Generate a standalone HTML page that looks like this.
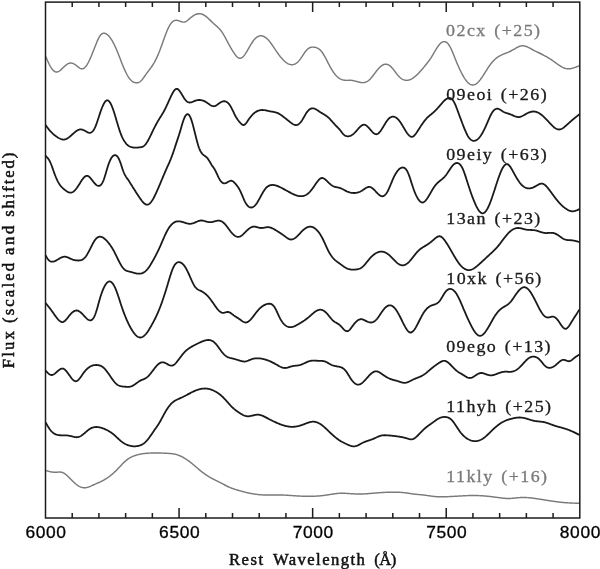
<!DOCTYPE html>
<html><head><meta charset="utf-8"><style>
html,body{margin:0;padding:0;background:#fff;}
body{width:600px;height:569px;overflow:hidden;font-family:"Liberation Sans",sans-serif;}
svg{display:block;will-change:transform;}
</style></head><body>
<svg width="600" height="569" viewBox="0 0 600 569">
<path d="M45.80 56.70L46.30 57.87L46.80 59.03L47.30 60.18L47.80 61.30L48.30 62.40L48.80 63.45L49.30 64.47L49.80 65.43L50.30 66.33L50.80 67.18L51.30 67.95L51.80 68.67L52.30 69.32L52.80 69.90L53.30 70.41L53.80 70.85L54.30 71.22L54.80 71.53L55.30 71.75L55.80 71.91L56.30 71.99L56.80 71.99L57.30 71.92L57.80 71.79L58.30 71.58L58.80 71.32L59.30 71.02L59.80 70.66L60.30 70.27L60.80 69.85L61.30 69.40L61.80 68.94L62.30 68.46L62.80 67.98L63.30 67.50L63.80 67.02L64.30 66.56L64.80 66.11L65.30 65.67L65.80 65.26L66.30 64.87L66.80 64.51L67.30 64.18L67.80 63.88L68.30 63.62L68.80 63.40L69.30 63.22L69.80 63.09L70.30 63.02L70.80 62.99L71.30 63.02L71.80 63.10L72.30 63.23L72.80 63.40L73.30 63.61L73.80 63.85L74.30 64.13L74.80 64.43L75.30 64.77L75.80 65.12L76.30 65.49L76.80 65.88L77.30 66.28L77.80 66.67L78.30 67.06L78.80 67.44L79.30 67.79L79.80 68.10L80.30 68.37L80.80 68.58L81.30 68.74L81.80 68.82L82.30 68.82L82.80 68.74L83.30 68.56L83.80 68.30L84.30 67.95L84.80 67.52L85.30 67.01L85.80 66.43L86.30 65.77L86.80 65.05L87.30 64.26L87.80 63.41L88.30 62.50L88.80 61.53L89.30 60.52L89.80 59.46L90.30 58.35L90.80 57.21L91.30 56.03L91.80 54.82L92.30 53.59L92.80 52.34L93.30 51.07L93.80 49.79L94.30 48.50L94.80 47.22L95.30 45.93L95.80 44.65L96.30 43.40L96.80 42.17L97.30 40.99L97.80 39.86L98.30 38.80L98.80 37.81L99.30 36.90L99.80 36.09L100.30 35.39L100.80 34.80L101.30 34.31L101.80 33.92L102.30 33.62L102.80 33.41L103.30 33.28L103.80 33.22L104.30 33.24L104.80 33.32L105.30 33.47L105.80 33.67L106.30 33.93L106.80 34.25L107.30 34.62L107.80 35.04L108.30 35.52L108.80 36.05L109.30 36.62L109.80 37.24L110.30 37.90L110.80 38.61L111.30 39.36L111.80 40.16L112.30 40.99L112.80 41.86L113.30 42.78L113.80 43.73L114.30 44.73L114.80 45.76L115.30 46.82L115.80 47.93L116.30 49.06L116.80 50.24L117.30 51.44L117.80 52.68L118.30 53.94L118.80 55.21L119.30 56.50L119.80 57.80L120.30 59.10L120.80 60.40L121.30 61.69L121.80 62.97L122.30 64.24L122.80 65.48L123.30 66.70L123.80 67.89L124.30 69.04L124.80 70.16L125.30 71.24L125.80 72.28L126.30 73.28L126.80 74.24L127.30 75.15L127.80 76.01L128.30 76.83L128.80 77.59L129.30 78.30L129.80 78.95L130.30 79.55L130.80 80.09L131.30 80.57L131.80 81.00L132.30 81.38L132.80 81.71L133.30 82.00L133.80 82.23L134.30 82.43L134.80 82.58L135.30 82.69L135.80 82.76L136.30 82.80L136.80 82.80L137.30 82.77L137.80 82.69L138.30 82.56L138.80 82.38L139.30 82.14L139.80 81.84L140.30 81.47L140.80 81.04L141.30 80.55L141.80 80.00L142.30 79.41L142.80 78.78L143.30 78.12L143.80 77.44L144.30 76.73L144.80 76.02L145.30 75.30L145.80 74.57L146.30 73.86L146.80 73.16L147.30 72.48L147.80 71.81L148.30 71.16L148.80 70.51L149.30 69.86L149.80 69.20L150.30 68.54L150.80 67.87L151.30 67.19L151.80 66.48L152.30 65.75L152.80 64.99L153.30 64.20L153.80 63.37L154.30 62.51L154.80 61.60L155.30 60.66L155.80 59.69L156.30 58.67L156.80 57.62L157.30 56.53L157.80 55.40L158.30 54.24L158.80 53.04L159.30 51.80L159.80 50.52L160.30 49.21L160.80 47.86L161.30 46.49L161.80 45.09L162.30 43.68L162.80 42.27L163.30 40.85L163.80 39.44L164.30 38.04L164.80 36.66L165.30 35.30L165.80 33.98L166.30 32.70L166.80 31.46L167.30 30.27L167.80 29.13L168.30 28.05L168.80 27.03L169.30 26.08L169.80 25.20L170.30 24.38L170.80 23.64L171.30 22.97L171.80 22.39L172.30 21.89L172.80 21.46L173.30 21.11L173.80 20.83L174.30 20.61L174.80 20.45L175.30 20.35L175.80 20.30L176.30 20.29L176.80 20.33L177.30 20.40L177.80 20.51L178.30 20.63L178.80 20.79L179.30 20.95L179.80 21.13L180.30 21.31L180.80 21.49L181.30 21.66L181.80 21.82L182.30 21.95L182.80 22.05L183.30 22.11L183.80 22.12L184.30 22.08L184.80 21.97L185.30 21.80L185.80 21.57L186.30 21.29L186.80 20.96L187.30 20.59L187.80 20.20L188.30 19.78L188.80 19.35L189.30 18.91L189.80 18.47L190.30 18.04L190.80 17.63L191.30 17.22L191.80 16.84L192.30 16.46L192.80 16.11L193.30 15.78L193.80 15.46L194.30 15.17L194.80 14.89L195.30 14.65L195.80 14.42L196.30 14.23L196.80 14.06L197.30 13.92L197.80 13.81L198.30 13.74L198.80 13.69L199.30 13.68L199.80 13.71L200.30 13.76L200.80 13.85L201.30 13.97L201.80 14.12L202.30 14.29L202.80 14.50L203.30 14.73L203.80 14.99L204.30 15.28L204.80 15.59L205.30 15.93L205.80 16.29L206.30 16.68L206.80 17.08L207.30 17.51L207.80 17.96L208.30 18.42L208.80 18.90L209.30 19.38L209.80 19.87L210.30 20.37L210.80 20.87L211.30 21.37L211.80 21.87L212.30 22.35L212.80 22.83L213.30 23.30L213.80 23.75L214.30 24.19L214.80 24.63L215.30 25.06L215.80 25.49L216.30 25.92L216.80 26.36L217.30 26.80L217.80 27.26L218.30 27.74L218.80 28.24L219.30 28.76L219.80 29.31L220.30 29.89L220.80 30.50L221.30 31.15L221.80 31.84L222.30 32.58L222.80 33.35L223.30 34.16L223.80 35.00L224.30 35.87L224.80 36.76L225.30 37.67L225.80 38.59L226.30 39.53L226.80 40.47L227.30 41.42L227.80 42.36L228.30 43.30L228.80 44.23L229.30 45.15L229.80 46.06L230.30 46.95L230.80 47.83L231.30 48.70L231.80 49.54L232.30 50.37L232.80 51.17L233.30 51.95L233.80 52.71L234.30 53.44L234.80 54.15L235.30 54.82L235.80 55.45L236.30 56.03L236.80 56.56L237.30 57.03L237.80 57.44L238.30 57.77L238.80 58.03L239.30 58.21L239.80 58.29L240.30 58.28L240.80 58.18L241.30 57.99L241.80 57.71L242.30 57.35L242.80 56.92L243.30 56.43L243.80 55.87L244.30 55.26L244.80 54.59L245.30 53.88L245.80 53.13L246.30 52.35L246.80 51.54L247.30 50.70L247.80 49.84L248.30 48.98L248.80 48.10L249.30 47.22L249.80 46.35L250.30 45.49L250.80 44.64L251.30 43.81L251.80 43.01L252.30 42.23L252.80 41.50L253.30 40.80L253.80 40.15L254.30 39.55L254.80 38.99L255.30 38.48L255.80 38.02L256.30 37.60L256.80 37.22L257.30 36.90L257.80 36.61L258.30 36.37L258.80 36.17L259.30 36.01L259.80 35.90L260.30 35.83L260.80 35.80L261.30 35.81L261.80 35.87L262.30 35.96L262.80 36.09L263.30 36.26L263.80 36.47L264.30 36.72L264.80 37.01L265.30 37.33L265.80 37.69L266.30 38.08L266.80 38.51L267.30 38.97L267.80 39.47L268.30 40.00L268.80 40.56L269.30 41.15L269.80 41.77L270.30 42.41L270.80 43.08L271.30 43.76L271.80 44.47L272.30 45.18L272.80 45.91L273.30 46.65L273.80 47.39L274.30 48.14L274.80 48.89L275.30 49.63L275.80 50.38L276.30 51.12L276.80 51.84L277.30 52.56L277.80 53.27L278.30 53.96L278.80 54.64L279.30 55.31L279.80 55.95L280.30 56.59L280.80 57.20L281.30 57.80L281.80 58.38L282.30 58.94L282.80 59.48L283.30 60.00L283.80 60.50L284.30 60.97L284.80 61.42L285.30 61.84L285.80 62.24L286.30 62.61L286.80 62.96L287.30 63.28L287.80 63.56L288.30 63.82L288.80 64.05L289.30 64.24L289.80 64.40L290.30 64.53L290.80 64.62L291.30 64.68L291.80 64.70L292.30 64.69L292.80 64.63L293.30 64.54L293.80 64.41L294.30 64.24L294.80 64.04L295.30 63.79L295.80 63.51L296.30 63.18L296.80 62.82L297.30 62.41L297.80 61.96L298.30 61.47L298.80 60.94L299.30 60.37L299.80 59.76L300.30 59.10L300.80 58.41L301.30 57.68L301.80 56.93L302.30 56.17L302.80 55.40L303.30 54.63L303.80 53.87L304.30 53.12L304.80 52.40L305.30 51.71L305.80 51.05L306.30 50.45L306.80 49.89L307.30 49.40L307.80 48.96L308.30 48.58L308.80 48.25L309.30 47.97L309.80 47.73L310.30 47.54L310.80 47.38L311.30 47.27L311.80 47.19L312.30 47.14L312.80 47.12L313.30 47.13L313.80 47.16L314.30 47.21L314.80 47.28L315.30 47.38L315.80 47.50L316.30 47.64L316.80 47.82L317.30 48.03L317.80 48.28L318.30 48.56L318.80 48.88L319.30 49.25L319.80 49.66L320.30 50.12L320.80 50.64L321.30 51.21L321.80 51.83L322.30 52.51L322.80 53.24L323.30 54.03L323.80 54.85L324.30 55.71L324.80 56.60L325.30 57.52L325.80 58.46L326.30 59.42L326.80 60.39L327.30 61.36L327.80 62.33L328.30 63.30L328.80 64.26L329.30 65.21L329.80 66.14L330.30 67.05L330.80 67.95L331.30 68.82L331.80 69.66L332.30 70.48L332.80 71.27L333.30 72.03L333.80 72.75L334.30 73.43L334.80 74.08L335.30 74.69L335.80 75.26L336.30 75.79L336.80 76.29L337.30 76.75L337.80 77.18L338.30 77.58L338.80 77.94L339.30 78.28L339.80 78.59L340.30 78.86L340.80 79.11L341.30 79.34L341.80 79.54L342.30 79.71L342.80 79.86L343.30 79.99L343.80 80.10L344.30 80.18L344.80 80.25L345.30 80.30L345.80 80.33L346.30 80.35L346.80 80.36L347.30 80.36L347.80 80.35L348.30 80.33L348.80 80.32L349.30 80.31L349.80 80.30L350.30 80.30L350.80 80.32L351.30 80.34L351.80 80.38L352.30 80.44L352.80 80.51L353.30 80.60L353.80 80.71L354.30 80.83L354.80 80.95L355.30 81.09L355.80 81.23L356.30 81.37L356.80 81.52L357.30 81.67L357.80 81.81L358.30 81.95L358.80 82.08L359.30 82.20L359.80 82.31L360.30 82.41L360.80 82.49L361.30 82.56L361.80 82.61L362.30 82.63L362.80 82.63L363.30 82.61L363.80 82.56L364.30 82.48L364.80 82.37L365.30 82.23L365.80 82.05L366.30 81.84L366.80 81.60L367.30 81.32L367.80 81.01L368.30 80.66L368.80 80.28L369.30 79.85L369.80 79.39L370.30 78.90L370.80 78.36L371.30 77.80L371.80 77.20L372.30 76.58L372.80 75.95L373.30 75.30L373.80 74.63L374.30 73.97L374.80 73.30L375.30 72.63L375.80 71.96L376.30 71.31L376.80 70.67L377.30 70.05L377.80 69.46L378.30 68.88L378.80 68.33L379.30 67.80L379.80 67.30L380.30 66.83L380.80 66.40L381.30 65.99L381.80 65.62L382.30 65.29L382.80 65.00L383.30 64.75L383.80 64.54L384.30 64.38L384.80 64.27L385.30 64.20L385.80 64.18L386.30 64.22L386.80 64.30L387.30 64.43L387.80 64.60L388.30 64.83L388.80 65.10L389.30 65.41L389.80 65.76L390.30 66.16L390.80 66.60L391.30 67.09L391.80 67.61L392.30 68.17L392.80 68.76L393.30 69.38L393.80 70.02L394.30 70.68L394.80 71.34L395.30 72.01L395.80 72.68L396.30 73.34L396.80 73.99L397.30 74.62L397.80 75.22L398.30 75.80L398.80 76.34L399.30 76.85L399.80 77.32L400.30 77.75L400.80 78.15L401.30 78.52L401.80 78.85L402.30 79.15L402.80 79.41L403.30 79.64L403.80 79.84L404.30 80.01L404.80 80.14L405.30 80.24L405.80 80.31L406.30 80.34L406.80 80.35L407.30 80.32L407.80 80.26L408.30 80.17L408.80 80.05L409.30 79.91L409.80 79.73L410.30 79.53L410.80 79.31L411.30 79.05L411.80 78.78L412.30 78.48L412.80 78.16L413.30 77.82L413.80 77.45L414.30 77.07L414.80 76.67L415.30 76.25L415.80 75.82L416.30 75.37L416.80 74.91L417.30 74.43L417.80 73.94L418.30 73.43L418.80 72.92L419.30 72.39L419.80 71.85L420.30 71.31L420.80 70.75L421.30 70.19L421.80 69.61L422.30 69.03L422.80 68.45L423.30 67.85L423.80 67.25L424.30 66.65L424.80 66.04L425.30 65.43L425.80 64.82L426.30 64.20L426.80 63.57L427.30 62.93L427.80 62.29L428.30 61.63L428.80 60.95L429.30 60.27L429.80 59.56L430.30 58.84L430.80 58.09L431.30 57.33L431.80 56.54L432.30 55.73L432.80 54.90L433.30 54.06L433.80 53.20L434.30 52.35L434.80 51.49L435.30 50.64L435.80 49.81L436.30 48.98L436.80 48.18L437.30 47.41L437.80 46.66L438.30 45.95L438.80 45.28L439.30 44.66L439.80 44.09L440.30 43.57L440.80 43.11L441.30 42.71L441.80 42.36L442.30 42.08L442.80 41.86L443.30 41.71L443.80 41.62L444.30 41.61L444.80 41.66L445.30 41.78L445.80 41.98L446.30 42.25L446.80 42.60L447.30 43.03L447.80 43.53L448.30 44.11L448.80 44.77L449.30 45.52L449.80 46.35L450.30 47.26L450.80 48.25L451.30 49.30L451.80 50.42L452.30 51.59L452.80 52.79L453.30 54.02L453.80 55.28L454.30 56.54L454.80 57.80L455.30 59.05L455.80 60.28L456.30 61.50L456.80 62.70L457.30 63.88L457.80 65.04L458.30 66.18L458.80 67.30L459.30 68.40L459.80 69.47L460.30 70.51L460.80 71.53L461.30 72.53L461.80 73.49L462.30 74.43L462.80 75.33L463.30 76.20L463.80 77.04L464.30 77.85L464.80 78.62L465.30 79.35L465.80 80.04L466.30 80.70L466.80 81.31L467.30 81.88L467.80 82.41L468.30 82.89L468.80 83.33L469.30 83.72L469.80 84.06L470.30 84.35L470.80 84.59L471.30 84.77L471.80 84.91L472.30 84.98L472.80 85.01L473.30 84.97L473.80 84.88L474.30 84.74L474.80 84.55L475.30 84.31L475.80 84.03L476.30 83.69L476.80 83.32L477.30 82.90L477.80 82.44L478.30 81.95L478.80 81.42L479.30 80.85L479.80 80.25L480.30 79.62L480.80 78.96L481.30 78.27L481.80 77.56L482.30 76.83L482.80 76.09L483.30 75.32L483.80 74.55L484.30 73.76L484.80 72.97L485.30 72.17L485.80 71.38L486.30 70.58L486.80 69.79L487.30 69.00L487.80 68.23L488.30 67.47L488.80 66.72L489.30 65.99L489.80 65.28L490.30 64.59L490.80 63.93L491.30 63.29L491.80 62.68L492.30 62.08L492.80 61.52L493.30 60.97L493.80 60.45L494.30 59.95L494.80 59.47L495.30 59.01L495.80 58.57L496.30 58.16L496.80 57.76L497.30 57.39L497.80 57.03L498.30 56.70L498.80 56.38L499.30 56.09L499.80 55.81L500.30 55.54L500.80 55.29L501.30 55.05L501.80 54.82L502.30 54.60L502.80 54.39L503.30 54.19L503.80 53.99L504.30 53.79L504.80 53.60L505.30 53.41L505.80 53.22L506.30 53.02L506.80 52.82L507.30 52.62L507.80 52.42L508.30 52.20L508.80 51.98L509.30 51.74L509.80 51.50L510.30 51.26L510.80 51.00L511.30 50.75L511.80 50.48L512.30 50.21L512.80 49.94L513.30 49.66L513.80 49.38L514.30 49.10L514.80 48.81L515.30 48.53L515.80 48.24L516.30 47.96L516.80 47.69L517.30 47.42L517.80 47.16L518.30 46.92L518.80 46.69L519.30 46.48L519.80 46.30L520.30 46.14L520.80 46.00L521.30 45.89L521.80 45.82L522.30 45.78L522.80 45.77L523.30 45.80L523.80 45.86L524.30 45.95L524.80 46.06L525.30 46.19L525.80 46.35L526.30 46.53L526.80 46.73L527.30 46.94L527.80 47.17L528.30 47.41L528.80 47.66L529.30 47.91L529.80 48.18L530.30 48.45L530.80 48.72L531.30 48.99L531.80 49.25L532.30 49.52L532.80 49.78L533.30 50.04L533.80 50.29L534.30 50.54L534.80 50.80L535.30 51.04L535.80 51.29L536.30 51.54L536.80 51.78L537.30 52.03L537.80 52.27L538.30 52.52L538.80 52.76L539.30 53.01L539.80 53.25L540.30 53.50L540.80 53.75L541.30 54.00L541.80 54.25L542.30 54.51L542.80 54.76L543.30 55.02L543.80 55.29L544.30 55.55L544.80 55.82L545.30 56.10L545.80 56.37L546.30 56.65L546.80 56.94L547.30 57.23L547.80 57.52L548.30 57.82L548.80 58.13L549.30 58.44L549.80 58.75L550.30 59.07L550.80 59.40L551.30 59.73L551.80 60.07L552.30 60.41L552.80 60.76L553.30 61.12L553.80 61.48L554.30 61.84L554.80 62.20L555.30 62.56L555.80 62.92L556.30 63.28L556.80 63.64L557.30 63.99L557.80 64.34L558.30 64.69L558.80 65.02L559.30 65.35L559.80 65.67L560.30 65.99L560.80 66.29L561.30 66.58L561.80 66.86L562.30 67.12L562.80 67.37L563.30 67.60L563.80 67.82L564.30 68.02L564.80 68.20L565.30 68.36L565.80 68.50L566.30 68.62L566.80 68.71L567.30 68.78L567.80 68.82L568.30 68.84L568.80 68.84L569.30 68.81L569.80 68.77L570.30 68.70L570.80 68.62L571.30 68.52L571.80 68.41L572.30 68.29L572.80 68.15L573.30 68.00L573.80 67.84L574.30 67.68L574.80 67.51L575.30 67.33L575.80 67.15L576.30 66.96L576.80 66.76L577.30 66.57L577.80 66.37L578.30 66.17L578.80 65.96L579.20 65.80" fill="none" stroke="#7a7a7a" stroke-width="1.45" stroke-linejoin="round" stroke-linecap="round"/>
<path d="M45.80 125.30L46.30 125.99L46.80 126.68L47.30 127.36L47.80 128.04L48.30 128.70L48.80 129.34L49.30 129.96L49.80 130.57L50.30 131.14L50.80 131.69L51.30 132.22L51.80 132.72L52.30 133.20L52.80 133.66L53.30 134.11L53.80 134.53L54.30 134.94L54.80 135.33L55.30 135.70L55.80 136.07L56.30 136.42L56.80 136.77L57.30 137.10L57.80 137.43L58.30 137.74L58.80 138.03L59.30 138.30L59.80 138.55L60.30 138.78L60.80 138.99L61.30 139.16L61.80 139.31L62.30 139.42L62.80 139.50L63.30 139.53L63.80 139.53L64.30 139.49L64.80 139.40L65.30 139.27L65.80 139.10L66.30 138.90L66.80 138.66L67.30 138.38L67.80 138.08L68.30 137.76L68.80 137.40L69.30 137.03L69.80 136.64L70.30 136.23L70.80 135.80L71.30 135.36L71.80 134.92L72.30 134.47L72.80 134.01L73.30 133.56L73.80 133.12L74.30 132.68L74.80 132.26L75.30 131.85L75.80 131.46L76.30 131.09L76.80 130.76L77.30 130.45L77.80 130.17L78.30 129.94L78.80 129.74L79.30 129.59L79.80 129.48L80.30 129.43L80.80 129.42L81.30 129.46L81.80 129.53L82.30 129.65L82.80 129.80L83.30 129.98L83.80 130.19L84.30 130.43L84.80 130.69L85.30 130.97L85.80 131.26L86.30 131.55L86.80 131.84L87.30 132.11L87.80 132.34L88.30 132.54L88.80 132.69L89.30 132.78L89.80 132.80L90.30 132.74L90.80 132.59L91.30 132.36L91.80 132.04L92.30 131.62L92.80 131.10L93.30 130.47L93.80 129.74L94.30 128.89L94.80 127.92L95.30 126.83L95.80 125.63L96.30 124.33L96.80 122.95L97.30 121.51L97.80 120.02L98.30 118.49L98.80 116.95L99.30 115.42L99.80 113.90L100.30 112.41L100.80 110.98L101.30 109.59L101.80 108.27L102.30 107.02L102.80 105.85L103.30 104.77L103.80 103.79L104.30 102.90L104.80 102.14L105.30 101.49L105.80 100.98L106.30 100.60L106.80 100.37L107.30 100.30L107.80 100.38L108.30 100.62L108.80 101.01L109.30 101.54L109.80 102.20L110.30 102.98L110.80 103.89L111.30 104.91L111.80 106.04L112.30 107.27L112.80 108.59L113.30 110.00L113.80 111.49L114.30 113.04L114.80 114.65L115.30 116.31L115.80 117.99L116.30 119.70L116.80 121.41L117.30 123.11L117.80 124.80L118.30 126.46L118.80 128.07L119.30 129.63L119.80 131.12L120.30 132.54L120.80 133.87L121.30 135.12L121.80 136.30L122.30 137.40L122.80 138.43L123.30 139.38L123.80 140.27L124.30 141.09L124.80 141.85L125.30 142.55L125.80 143.19L126.30 143.77L126.80 144.30L127.30 144.78L127.80 145.21L128.30 145.59L128.80 145.93L129.30 146.23L129.80 146.49L130.30 146.72L130.80 146.91L131.30 147.08L131.80 147.22L132.30 147.33L132.80 147.43L133.30 147.50L133.80 147.56L134.30 147.60L134.80 147.63L135.30 147.65L135.80 147.65L136.30 147.64L136.80 147.62L137.30 147.59L137.80 147.56L138.30 147.51L138.80 147.46L139.30 147.39L139.80 147.33L140.30 147.26L140.80 147.17L141.30 147.08L141.80 146.95L142.30 146.79L142.80 146.59L143.30 146.34L143.80 146.03L144.30 145.65L144.80 145.20L145.30 144.67L145.80 144.06L146.30 143.37L146.80 142.61L147.30 141.80L147.80 140.93L148.30 140.02L148.80 139.08L149.30 138.10L149.80 137.10L150.30 136.09L150.80 135.07L151.30 134.04L151.80 133.01L152.30 131.98L152.80 130.94L153.30 129.92L153.80 128.90L154.30 127.89L154.80 126.90L155.30 125.92L155.80 124.96L156.30 124.03L156.80 123.12L157.30 122.24L157.80 121.38L158.30 120.54L158.80 119.71L159.30 118.90L159.80 118.09L160.30 117.29L160.80 116.49L161.30 115.68L161.80 114.86L162.30 114.04L162.80 113.19L163.30 112.33L163.80 111.45L164.30 110.53L164.80 109.59L165.30 108.61L165.80 107.59L166.30 106.55L166.80 105.49L167.30 104.40L167.80 103.30L168.30 102.19L168.80 101.08L169.30 99.97L169.80 98.87L170.30 97.78L170.80 96.70L171.30 95.65L171.80 94.63L172.30 93.65L172.80 92.73L173.30 91.88L173.80 91.11L174.30 90.43L174.80 89.85L175.30 89.39L175.80 89.05L176.30 88.85L176.80 88.80L177.30 88.91L177.80 89.15L178.30 89.52L178.80 90.00L179.30 90.58L179.80 91.24L180.30 91.96L180.80 92.73L181.30 93.54L181.80 94.37L182.30 95.20L182.80 96.03L183.30 96.84L183.80 97.64L184.30 98.40L184.80 99.12L185.30 99.78L185.80 100.39L186.30 100.93L186.80 101.38L187.30 101.76L187.80 102.05L188.30 102.26L188.80 102.41L189.30 102.49L189.80 102.51L190.30 102.47L190.80 102.39L191.30 102.27L191.80 102.11L192.30 101.93L192.80 101.73L193.30 101.51L193.80 101.30L194.30 101.08L194.80 100.88L195.30 100.69L195.80 100.52L196.30 100.38L196.80 100.26L197.30 100.16L197.80 100.08L198.30 100.02L198.80 99.99L199.30 99.98L199.80 99.99L200.30 100.02L200.80 100.09L201.30 100.17L201.80 100.28L202.30 100.41L202.80 100.56L203.30 100.74L203.80 100.93L204.30 101.15L204.80 101.39L205.30 101.66L205.80 101.94L206.30 102.24L206.80 102.57L207.30 102.91L207.80 103.26L208.30 103.63L208.80 103.99L209.30 104.34L209.80 104.69L210.30 105.01L210.80 105.31L211.30 105.58L211.80 105.81L212.30 106.00L212.80 106.14L213.30 106.22L213.80 106.23L214.30 106.18L214.80 106.06L215.30 105.88L215.80 105.64L216.30 105.36L216.80 105.04L217.30 104.69L217.80 104.33L218.30 103.96L218.80 103.59L219.30 103.23L219.80 102.89L220.30 102.57L220.80 102.27L221.30 102.01L221.80 101.77L222.30 101.58L222.80 101.42L223.30 101.31L223.80 101.24L224.30 101.23L224.80 101.27L225.30 101.37L225.80 101.52L226.30 101.74L226.80 102.03L227.30 102.37L227.80 102.79L228.30 103.26L228.80 103.81L229.30 104.43L229.80 105.11L230.30 105.87L230.80 106.70L231.30 107.60L231.80 108.56L232.30 109.57L232.80 110.61L233.30 111.66L233.80 112.72L234.30 113.77L234.80 114.79L235.30 115.77L235.80 116.70L236.30 117.56L236.80 118.37L237.30 119.11L237.80 119.81L238.30 120.47L238.80 121.10L239.30 121.70L239.80 122.27L240.30 122.84L240.80 123.38L241.30 123.87L241.80 124.31L242.30 124.65L242.80 124.90L243.30 125.01L243.80 124.98L244.30 124.80L244.80 124.47L245.30 124.03L245.80 123.49L246.30 122.87L246.80 122.19L247.30 121.47L247.80 120.73L248.30 120.00L248.80 119.28L249.30 118.59L249.80 117.92L250.30 117.28L250.80 116.65L251.30 116.06L251.80 115.49L252.30 114.94L252.80 114.43L253.30 113.94L253.80 113.48L254.30 113.05L254.80 112.65L255.30 112.28L255.80 111.94L256.30 111.64L256.80 111.36L257.30 111.11L257.80 110.88L258.30 110.69L258.80 110.52L259.30 110.37L259.80 110.26L260.30 110.16L260.80 110.09L261.30 110.04L261.80 110.01L262.30 110.00L262.80 110.01L263.30 110.04L263.80 110.09L264.30 110.15L264.80 110.22L265.30 110.31L265.80 110.40L266.30 110.50L266.80 110.61L267.30 110.72L267.80 110.83L268.30 110.94L268.80 111.06L269.30 111.16L269.80 111.26L270.30 111.35L270.80 111.44L271.30 111.52L271.80 111.60L272.30 111.68L272.80 111.76L273.30 111.84L273.80 111.93L274.30 112.03L274.80 112.14L275.30 112.26L275.80 112.40L276.30 112.55L276.80 112.72L277.30 112.92L277.80 113.13L278.30 113.38L278.80 113.64L279.30 113.92L279.80 114.22L280.30 114.54L280.80 114.87L281.30 115.22L281.80 115.58L282.30 115.94L282.80 116.32L283.30 116.70L283.80 117.09L284.30 117.47L284.80 117.87L285.30 118.26L285.80 118.66L286.30 119.06L286.80 119.46L287.30 119.86L287.80 120.26L288.30 120.66L288.80 121.05L289.30 121.45L289.80 121.84L290.30 122.23L290.80 122.62L291.30 122.99L291.80 123.35L292.30 123.69L292.80 124.00L293.30 124.28L293.80 124.53L294.30 124.73L294.80 124.89L295.30 125.00L295.80 125.06L296.30 125.05L296.80 124.98L297.30 124.84L297.80 124.64L298.30 124.36L298.80 124.02L299.30 123.62L299.80 123.15L300.30 122.62L300.80 122.02L301.30 121.37L301.80 120.65L302.30 119.88L302.80 119.06L303.30 118.21L303.80 117.34L304.30 116.45L304.80 115.58L305.30 114.72L305.80 113.89L306.30 113.09L306.80 112.36L307.30 111.68L307.80 111.07L308.30 110.52L308.80 110.03L309.30 109.60L309.80 109.24L310.30 108.93L310.80 108.69L311.30 108.50L311.80 108.38L312.30 108.31L312.80 108.30L313.30 108.35L313.80 108.45L314.30 108.59L314.80 108.78L315.30 109.00L315.80 109.26L316.30 109.54L316.80 109.85L317.30 110.17L317.80 110.50L318.30 110.84L318.80 111.19L319.30 111.53L319.80 111.87L320.30 112.19L320.80 112.51L321.30 112.81L321.80 113.11L322.30 113.40L322.80 113.70L323.30 113.99L323.80 114.28L324.30 114.59L324.80 114.89L325.30 115.21L325.80 115.55L326.30 115.90L326.80 116.26L327.30 116.65L327.80 117.06L328.30 117.50L328.80 117.96L329.30 118.45L329.80 118.96L330.30 119.49L330.80 120.03L331.30 120.59L331.80 121.15L332.30 121.71L332.80 122.28L333.30 122.84L333.80 123.40L334.30 123.95L334.80 124.49L335.30 125.01L335.80 125.52L336.30 126.02L336.80 126.51L337.30 127.01L337.80 127.52L338.30 128.04L338.80 128.58L339.30 129.15L339.80 129.75L340.30 130.39L340.80 131.05L341.30 131.72L341.80 132.39L342.30 133.04L342.80 133.65L343.30 134.20L343.80 134.68L344.30 135.10L344.80 135.44L345.30 135.73L345.80 135.95L346.30 136.12L346.80 136.23L347.30 136.30L347.80 136.32L348.30 136.30L348.80 136.24L349.30 136.14L349.80 136.00L350.30 135.83L350.80 135.62L351.30 135.38L351.80 135.09L352.30 134.78L352.80 134.43L353.30 134.05L353.80 133.63L354.30 133.18L354.80 132.70L355.30 132.19L355.80 131.65L356.30 131.09L356.80 130.52L357.30 129.94L357.80 129.36L358.30 128.78L358.80 128.22L359.30 127.68L359.80 127.16L360.30 126.67L360.80 126.22L361.30 125.82L361.80 125.47L362.30 125.17L362.80 124.94L363.30 124.78L363.80 124.70L364.30 124.71L364.80 124.80L365.30 124.97L365.80 125.22L366.30 125.53L366.80 125.90L367.30 126.32L367.80 126.79L368.30 127.30L368.80 127.83L369.30 128.39L369.80 128.97L370.30 129.55L370.80 130.14L371.30 130.71L371.80 131.27L372.30 131.81L372.80 132.32L373.30 132.78L373.80 133.19L374.30 133.55L374.80 133.84L375.30 134.06L375.80 134.19L376.30 134.24L376.80 134.18L377.30 134.02L377.80 133.77L378.30 133.42L378.80 132.99L379.30 132.49L379.80 131.92L380.30 131.29L380.80 130.61L381.30 129.89L381.80 129.13L382.30 128.34L382.80 127.53L383.30 126.70L383.80 125.87L384.30 125.03L384.80 124.21L385.30 123.39L385.80 122.60L386.30 121.84L386.80 121.11L387.30 120.42L387.80 119.78L388.30 119.20L388.80 118.68L389.30 118.22L389.80 117.82L390.30 117.48L390.80 117.20L391.30 116.97L391.80 116.81L392.30 116.70L392.80 116.65L393.30 116.66L393.80 116.72L394.30 116.83L394.80 117.00L395.30 117.22L395.80 117.49L396.30 117.81L396.80 118.18L397.30 118.61L397.80 119.08L398.30 119.59L398.80 120.16L399.30 120.77L399.80 121.43L400.30 122.13L400.80 122.87L401.30 123.64L401.80 124.44L402.30 125.27L402.80 126.11L403.30 126.96L403.80 127.81L404.30 128.66L404.80 129.50L405.30 130.33L405.80 131.13L406.30 131.90L406.80 132.65L407.30 133.35L407.80 134.00L408.30 134.60L408.80 135.14L409.30 135.62L409.80 136.03L410.30 136.35L410.80 136.59L411.30 136.75L411.80 136.80L412.30 136.75L412.80 136.59L413.30 136.33L413.80 135.97L414.30 135.52L414.80 134.99L415.30 134.40L415.80 133.75L416.30 133.06L416.80 132.33L417.30 131.56L417.80 130.79L418.30 130.00L418.80 129.21L419.30 128.43L419.80 127.65L420.30 126.88L420.80 126.12L421.30 125.37L421.80 124.63L422.30 123.90L422.80 123.19L423.30 122.49L423.80 121.81L424.30 121.15L424.80 120.51L425.30 119.89L425.80 119.30L426.30 118.73L426.80 118.19L427.30 117.68L427.80 117.19L428.30 116.73L428.80 116.28L429.30 115.84L429.80 115.42L430.30 115.00L430.80 114.59L431.30 114.19L431.80 113.77L432.30 113.36L432.80 112.94L433.30 112.50L433.80 112.05L434.30 111.59L434.80 111.11L435.30 110.62L435.80 110.12L436.30 109.60L436.80 109.08L437.30 108.54L437.80 108.00L438.30 107.44L438.80 106.88L439.30 106.31L439.80 105.73L440.30 105.15L440.80 104.56L441.30 103.98L441.80 103.39L442.30 102.82L442.80 102.26L443.30 101.72L443.80 101.20L444.30 100.70L444.80 100.24L445.30 99.80L445.80 99.41L446.30 99.05L446.80 98.74L447.30 98.48L447.80 98.27L448.30 98.12L448.80 98.03L449.30 98.00L449.80 98.04L450.30 98.15L450.80 98.35L451.30 98.64L451.80 99.02L452.30 99.50L452.80 100.09L453.30 100.80L453.80 101.63L454.30 102.56L454.80 103.60L455.30 104.71L455.80 105.90L456.30 107.15L456.80 108.45L457.30 109.78L457.80 111.14L458.30 112.50L458.80 113.86L459.30 115.22L459.80 116.57L460.30 117.92L460.80 119.26L461.30 120.59L461.80 121.91L462.30 123.22L462.80 124.52L463.30 125.80L463.80 127.07L464.30 128.32L464.80 129.54L465.30 130.72L465.80 131.86L466.30 132.96L466.80 133.99L467.30 134.97L467.80 135.87L468.30 136.70L468.80 137.45L469.30 138.11L469.80 138.70L470.30 139.20L470.80 139.64L471.30 140.00L471.80 140.29L472.30 140.52L472.80 140.68L473.30 140.78L473.80 140.81L474.30 140.79L474.80 140.71L475.30 140.58L475.80 140.39L476.30 140.15L476.80 139.85L477.30 139.50L477.80 139.09L478.30 138.64L478.80 138.13L479.30 137.57L479.80 136.96L480.30 136.30L480.80 135.59L481.30 134.83L481.80 134.03L482.30 133.18L482.80 132.30L483.30 131.37L483.80 130.41L484.30 129.41L484.80 128.38L485.30 127.32L485.80 126.23L486.30 125.11L486.80 123.97L487.30 122.81L487.80 121.63L488.30 120.46L488.80 119.30L489.30 118.15L489.80 117.04L490.30 115.98L490.80 114.96L491.30 114.01L491.80 113.13L492.30 112.33L492.80 111.62L493.30 110.99L493.80 110.43L494.30 109.95L494.80 109.56L495.30 109.23L495.80 108.99L496.30 108.81L496.80 108.72L497.30 108.69L497.80 108.74L498.30 108.85L498.80 109.02L499.30 109.24L499.80 109.49L500.30 109.78L500.80 110.10L501.30 110.42L501.80 110.76L502.30 111.09L502.80 111.40L503.30 111.70L503.80 111.97L504.30 112.21L504.80 112.44L505.30 112.64L505.80 112.82L506.30 113.00L506.80 113.16L507.30 113.32L507.80 113.47L508.30 113.63L508.80 113.79L509.30 113.95L509.80 114.13L510.30 114.31L510.80 114.52L511.30 114.73L511.80 114.94L512.30 115.17L512.80 115.39L513.30 115.61L513.80 115.82L514.30 116.03L514.80 116.23L515.30 116.41L515.80 116.57L516.30 116.72L516.80 116.84L517.30 116.93L517.80 117.00L518.30 117.03L518.80 117.03L519.30 116.99L519.80 116.91L520.30 116.79L520.80 116.64L521.30 116.47L521.80 116.26L522.30 116.04L522.80 115.79L523.30 115.53L523.80 115.25L524.30 114.97L524.80 114.68L525.30 114.39L525.80 114.10L526.30 113.82L526.80 113.55L527.30 113.28L527.80 113.03L528.30 112.80L528.80 112.57L529.30 112.37L529.80 112.18L530.30 112.02L530.80 111.87L531.30 111.75L531.80 111.65L532.30 111.57L532.80 111.52L533.30 111.50L533.80 111.51L534.30 111.54L534.80 111.60L535.30 111.69L535.80 111.81L536.30 111.95L536.80 112.12L537.30 112.31L537.80 112.52L538.30 112.77L538.80 113.03L539.30 113.32L539.80 113.63L540.30 113.96L540.80 114.31L541.30 114.69L541.80 115.08L542.30 115.49L542.80 115.93L543.30 116.38L543.80 116.84L544.30 117.32L544.80 117.81L545.30 118.31L545.80 118.82L546.30 119.34L546.80 119.87L547.30 120.40L547.80 120.94L548.30 121.47L548.80 122.01L549.30 122.55L549.80 123.09L550.30 123.62L550.80 124.15L551.30 124.66L551.80 125.17L552.30 125.66L552.80 126.14L553.30 126.59L553.80 127.03L554.30 127.44L554.80 127.82L555.30 128.16L555.80 128.48L556.30 128.76L556.80 128.99L557.30 129.19L557.80 129.34L558.30 129.44L558.80 129.50L559.30 129.50L559.80 129.44L560.30 129.33L560.80 129.18L561.30 128.98L561.80 128.74L562.30 128.46L562.80 128.15L563.30 127.81L563.80 127.45L564.30 127.06L564.80 126.65L565.30 126.23L565.80 125.80L566.30 125.36L566.80 124.91L567.30 124.46L567.80 124.02L568.30 123.57L568.80 123.12L569.30 122.68L569.80 122.23L570.30 121.79L570.80 121.35L571.30 120.91L571.80 120.48L572.30 120.05L572.80 119.62L573.30 119.20L573.80 118.78L574.30 118.37L574.80 117.96L575.30 117.56L575.80 117.16L576.30 116.76L576.80 116.37L577.30 115.98L577.80 115.59L578.30 115.20L578.80 114.81L579.20 114.50" fill="none" stroke="#1a1a1a" stroke-width="1.8" stroke-linejoin="round" stroke-linecap="round"/>
<path d="M45.80 156.00L46.30 156.51L46.80 157.03L47.30 157.58L47.80 158.18L48.30 158.83L48.80 159.56L49.30 160.38L49.80 161.30L50.30 162.34L50.80 163.49L51.30 164.73L51.80 166.05L52.30 167.43L52.80 168.84L53.30 170.27L53.80 171.70L54.30 173.10L54.80 174.47L55.30 175.78L55.80 177.02L56.30 178.20L56.80 179.31L57.30 180.36L57.80 181.35L58.30 182.28L58.80 183.15L59.30 183.96L59.80 184.71L60.30 185.41L60.80 186.05L61.30 186.65L61.80 187.20L62.30 187.71L62.80 188.18L63.30 188.63L63.80 189.06L64.30 189.46L64.80 189.85L65.30 190.23L65.80 190.59L66.30 190.95L66.80 191.28L67.30 191.59L67.80 191.86L68.30 192.11L68.80 192.31L69.30 192.47L69.80 192.59L70.30 192.65L70.80 192.65L71.30 192.59L71.80 192.47L72.30 192.28L72.80 192.01L73.30 191.69L73.80 191.31L74.30 190.87L74.80 190.38L75.30 189.84L75.80 189.26L76.30 188.64L76.80 187.98L77.30 187.28L77.80 186.55L78.30 185.80L78.80 185.02L79.30 184.23L79.80 183.43L80.30 182.63L80.80 181.84L81.30 181.07L81.80 180.31L82.30 179.59L82.80 178.91L83.30 178.27L83.80 177.69L84.30 177.17L84.80 176.73L85.30 176.36L85.80 176.07L86.30 175.88L86.80 175.79L87.30 175.81L87.80 175.95L88.30 176.18L88.80 176.51L89.30 176.91L89.80 177.39L90.30 177.92L90.80 178.50L91.30 179.11L91.80 179.75L92.30 180.40L92.80 181.06L93.30 181.70L93.80 182.33L94.30 182.92L94.80 183.49L95.30 184.01L95.80 184.48L96.30 184.90L96.80 185.25L97.30 185.53L97.80 185.74L98.30 185.86L98.80 185.89L99.30 185.82L99.80 185.65L100.30 185.36L100.80 184.94L101.30 184.40L101.80 183.73L102.30 182.90L102.80 181.93L103.30 180.80L103.80 179.51L104.30 178.08L104.80 176.54L105.30 174.91L105.80 173.24L106.30 171.53L106.80 169.83L107.30 168.15L107.80 166.53L108.30 165.00L108.80 163.57L109.30 162.26L109.80 161.06L110.30 159.97L110.80 158.99L111.30 158.12L111.80 157.37L112.30 156.72L112.80 156.19L113.30 155.77L113.80 155.45L114.30 155.25L114.80 155.16L115.30 155.18L115.80 155.31L116.30 155.57L116.80 155.94L117.30 156.45L117.80 157.08L118.30 157.85L118.80 158.75L119.30 159.79L119.80 160.98L120.30 162.32L120.80 163.77L121.30 165.30L121.80 166.87L122.30 168.41L122.80 169.89L123.30 171.26L123.80 172.50L124.30 173.61L124.80 174.62L125.30 175.53L125.80 176.37L126.30 177.16L126.80 177.90L127.30 178.63L127.80 179.35L128.30 180.09L128.80 180.84L129.30 181.61L129.80 182.38L130.30 183.17L130.80 183.96L131.30 184.76L131.80 185.56L132.30 186.36L132.80 187.16L133.30 187.96L133.80 188.75L134.30 189.54L134.80 190.33L135.30 191.11L135.80 191.89L136.30 192.67L136.80 193.44L137.30 194.20L137.80 194.96L138.30 195.72L138.80 196.46L139.30 197.21L139.80 197.94L140.30 198.66L140.80 199.37L141.30 200.06L141.80 200.73L142.30 201.36L142.80 201.95L143.30 202.50L143.80 203.00L144.30 203.45L144.80 203.84L145.30 204.17L145.80 204.42L146.30 204.60L146.80 204.70L147.30 204.72L147.80 204.64L148.30 204.48L148.80 204.22L149.30 203.88L149.80 203.47L150.30 202.97L150.80 202.41L151.30 201.78L151.80 201.08L152.30 200.32L152.80 199.50L153.30 198.64L153.80 197.72L154.30 196.76L154.80 195.77L155.30 194.73L155.80 193.67L156.30 192.58L156.80 191.48L157.30 190.35L157.80 189.21L158.30 188.06L158.80 186.89L159.30 185.72L159.80 184.54L160.30 183.35L160.80 182.15L161.30 180.96L161.80 179.76L162.30 178.56L162.80 177.37L163.30 176.18L163.80 174.99L164.30 173.81L164.80 172.64L165.30 171.48L165.80 170.33L166.30 169.20L166.80 168.08L167.30 166.97L167.80 165.87L168.30 164.77L168.80 163.67L169.30 162.54L169.80 161.40L170.30 160.22L170.80 159.01L171.30 157.75L171.80 156.43L172.30 155.06L172.80 153.64L173.30 152.18L173.80 150.69L174.30 149.18L174.80 147.66L175.30 146.13L175.80 144.61L176.30 143.10L176.80 141.60L177.30 140.11L177.80 138.61L178.30 137.10L178.80 135.56L179.30 133.98L179.80 132.36L180.30 130.69L180.80 128.98L181.30 127.25L181.80 125.53L182.30 123.86L182.80 122.24L183.30 120.72L183.80 119.32L184.30 118.06L184.80 116.97L185.30 116.05L185.80 115.30L186.30 114.74L186.80 114.36L187.30 114.18L187.80 114.19L188.30 114.39L188.80 114.79L189.30 115.38L189.80 116.16L190.30 117.13L190.80 118.30L191.30 119.65L191.80 121.17L192.30 122.83L192.80 124.62L193.30 126.50L193.80 128.45L194.30 130.45L194.80 132.49L195.30 134.52L195.80 136.54L196.30 138.52L196.80 140.44L197.30 142.29L197.80 144.05L198.30 145.69L198.80 147.20L199.30 148.56L199.80 149.76L200.30 150.81L200.80 151.72L201.30 152.51L201.80 153.20L202.30 153.80L202.80 154.31L203.30 154.76L203.80 155.17L204.30 155.54L204.80 155.90L205.30 156.26L205.80 156.64L206.30 157.06L206.80 157.53L207.30 158.06L207.80 158.68L208.30 159.39L208.80 160.15L209.30 160.97L209.80 161.82L210.30 162.67L210.80 163.53L211.30 164.36L211.80 165.15L212.30 165.90L212.80 166.62L213.30 167.34L213.80 168.07L214.30 168.83L214.80 169.65L215.30 170.55L215.80 171.52L216.30 172.54L216.80 173.60L217.30 174.68L217.80 175.76L218.30 176.81L218.80 177.83L219.30 178.79L219.80 179.67L220.30 180.46L220.80 181.15L221.30 181.73L221.80 182.22L222.30 182.62L222.80 182.93L223.30 183.15L223.80 183.29L224.30 183.35L224.80 183.33L225.30 183.23L225.80 183.07L226.30 182.86L226.80 182.61L227.30 182.33L227.80 182.04L228.30 181.74L228.80 181.47L229.30 181.22L229.80 181.00L230.30 180.85L230.80 180.75L231.30 180.74L231.80 180.82L232.30 181.01L232.80 181.28L233.30 181.63L233.80 182.05L234.30 182.53L234.80 183.05L235.30 183.61L235.80 184.20L236.30 184.81L236.80 185.43L237.30 186.09L237.80 186.79L238.30 187.53L238.80 188.33L239.30 189.18L239.80 190.11L240.30 191.11L240.80 192.18L241.30 193.31L241.80 194.47L242.30 195.65L242.80 196.84L243.30 198.02L243.80 199.16L244.30 200.27L244.80 201.31L245.30 202.27L245.80 203.15L246.30 203.94L246.80 204.65L247.30 205.28L247.80 205.83L248.30 206.30L248.80 206.69L249.30 207.01L249.80 207.24L250.30 207.40L250.80 207.49L251.30 207.50L251.80 207.44L252.30 207.30L252.80 207.10L253.30 206.83L253.80 206.49L254.30 206.08L254.80 205.62L255.30 205.09L255.80 204.50L256.30 203.86L256.80 203.16L257.30 202.40L257.80 201.60L258.30 200.76L258.80 199.89L259.30 198.99L259.80 198.08L260.30 197.15L260.80 196.22L261.30 195.29L261.80 194.37L262.30 193.47L262.80 192.60L263.30 191.75L263.80 190.94L264.30 190.18L264.80 189.47L265.30 188.82L265.80 188.22L266.30 187.69L266.80 187.21L267.30 186.79L267.80 186.42L268.30 186.09L268.80 185.81L269.30 185.58L269.80 185.39L270.30 185.23L270.80 185.12L271.30 185.03L271.80 184.98L272.30 184.96L272.80 184.97L273.30 185.00L273.80 185.05L274.30 185.13L274.80 185.23L275.30 185.34L275.80 185.47L276.30 185.62L276.80 185.79L277.30 185.97L277.80 186.16L278.30 186.37L278.80 186.58L279.30 186.81L279.80 187.05L280.30 187.29L280.80 187.54L281.30 187.79L281.80 188.05L282.30 188.31L282.80 188.58L283.30 188.85L283.80 189.12L284.30 189.39L284.80 189.66L285.30 189.93L285.80 190.21L286.30 190.48L286.80 190.76L287.30 191.03L287.80 191.31L288.30 191.58L288.80 191.85L289.30 192.12L289.80 192.39L290.30 192.66L290.80 192.92L291.30 193.18L291.80 193.44L292.30 193.69L292.80 193.93L293.30 194.17L293.80 194.39L294.30 194.61L294.80 194.82L295.30 195.02L295.80 195.20L296.30 195.38L296.80 195.54L297.30 195.68L297.80 195.81L298.30 195.93L298.80 196.02L299.30 196.10L299.80 196.16L300.30 196.20L300.80 196.22L301.30 196.22L301.80 196.19L302.30 196.14L302.80 196.07L303.30 195.97L303.80 195.84L304.30 195.69L304.80 195.50L305.30 195.29L305.80 195.04L306.30 194.76L306.80 194.45L307.30 194.10L307.80 193.72L308.30 193.30L308.80 192.84L309.30 192.35L309.80 191.83L310.30 191.27L310.80 190.69L311.30 190.08L311.80 189.44L312.30 188.79L312.80 188.12L313.30 187.43L313.80 186.73L314.30 186.01L314.80 185.29L315.30 184.56L315.80 183.83L316.30 183.11L316.80 182.41L317.30 181.73L317.80 181.08L318.30 180.47L318.80 179.90L319.30 179.40L319.80 178.96L320.30 178.59L320.80 178.29L321.30 178.09L321.80 177.99L322.30 177.98L322.80 178.06L323.30 178.23L323.80 178.47L324.30 178.77L324.80 179.13L325.30 179.53L325.80 179.96L326.30 180.42L326.80 180.90L327.30 181.38L327.80 181.86L328.30 182.35L328.80 182.83L329.30 183.30L329.80 183.76L330.30 184.19L330.80 184.61L331.30 185.00L331.80 185.36L332.30 185.68L332.80 185.97L333.30 186.21L333.80 186.43L334.30 186.61L334.80 186.77L335.30 186.90L335.80 187.02L336.30 187.13L336.80 187.24L337.30 187.33L337.80 187.43L338.30 187.54L338.80 187.66L339.30 187.79L339.80 187.93L340.30 188.11L340.80 188.30L341.30 188.52L341.80 188.75L342.30 188.99L342.80 189.25L343.30 189.52L343.80 189.79L344.30 190.06L344.80 190.33L345.30 190.60L345.80 190.86L346.30 191.11L346.80 191.35L347.30 191.57L347.80 191.77L348.30 191.96L348.80 192.14L349.30 192.30L349.80 192.44L350.30 192.56L350.80 192.68L351.30 192.77L351.80 192.85L352.30 192.91L352.80 192.96L353.30 192.99L353.80 193.00L354.30 193.00L354.80 192.98L355.30 192.94L355.80 192.89L356.30 192.82L356.80 192.73L357.30 192.62L357.80 192.49L358.30 192.35L358.80 192.18L359.30 191.99L359.80 191.79L360.30 191.56L360.80 191.31L361.30 191.03L361.80 190.74L362.30 190.42L362.80 190.09L363.30 189.75L363.80 189.40L364.30 189.05L364.80 188.71L365.30 188.39L365.80 188.08L366.30 187.79L366.80 187.54L367.30 187.32L367.80 187.14L368.30 187.01L368.80 186.94L369.30 186.92L369.80 186.96L370.30 187.08L370.80 187.26L371.30 187.51L371.80 187.81L372.30 188.16L372.80 188.56L373.30 189.00L373.80 189.47L374.30 189.96L374.80 190.47L375.30 191.00L375.80 191.54L376.30 192.07L376.80 192.61L377.30 193.13L377.80 193.63L378.30 194.11L378.80 194.56L379.30 194.97L379.80 195.34L380.30 195.66L380.80 195.92L381.30 196.11L381.80 196.24L382.30 196.28L382.80 196.24L383.30 196.11L383.80 195.89L384.30 195.57L384.80 195.17L385.30 194.68L385.80 194.10L386.30 193.44L386.80 192.70L387.30 191.88L387.80 190.98L388.30 190.00L388.80 188.95L389.30 187.84L389.80 186.68L390.30 185.49L390.80 184.27L391.30 183.04L391.80 181.82L392.30 180.61L392.80 179.44L393.30 178.30L393.80 177.22L394.30 176.19L394.80 175.22L395.30 174.31L395.80 173.45L396.30 172.65L396.80 171.90L397.30 171.21L397.80 170.58L398.30 170.00L398.80 169.48L399.30 169.02L399.80 168.62L400.30 168.27L400.80 167.99L401.30 167.77L401.80 167.61L402.30 167.52L402.80 167.49L403.30 167.53L403.80 167.65L404.30 167.85L404.80 168.15L405.30 168.54L405.80 169.05L406.30 169.68L406.80 170.43L407.30 171.31L407.80 172.33L408.30 173.49L408.80 174.76L409.30 176.12L409.80 177.57L410.30 179.07L410.80 180.61L411.30 182.18L411.80 183.75L412.30 185.31L412.80 186.83L413.30 188.30L413.80 189.70L414.30 191.04L414.80 192.30L415.30 193.49L415.80 194.62L416.30 195.67L416.80 196.66L417.30 197.58L417.80 198.42L418.30 199.20L418.80 199.91L419.30 200.54L419.80 201.10L420.30 201.57L420.80 201.95L421.30 202.23L421.80 202.42L422.30 202.50L422.80 202.47L423.30 202.33L423.80 202.09L424.30 201.76L424.80 201.35L425.30 200.85L425.80 200.29L426.30 199.67L426.80 198.99L427.30 198.26L427.80 197.50L428.30 196.70L428.80 195.88L429.30 195.04L429.80 194.19L430.30 193.33L430.80 192.46L431.30 191.60L431.80 190.74L432.30 189.90L432.80 189.08L433.30 188.28L433.80 187.51L434.30 186.77L434.80 186.07L435.30 185.41L435.80 184.80L436.30 184.23L436.80 183.69L437.30 183.18L437.80 182.70L438.30 182.24L438.80 181.80L439.30 181.38L439.80 180.96L440.30 180.55L440.80 180.15L441.30 179.74L441.80 179.32L442.30 178.90L442.80 178.46L443.30 178.01L443.80 177.53L444.30 177.03L444.80 176.51L445.30 175.95L445.80 175.36L446.30 174.73L446.80 174.06L447.30 173.35L447.80 172.60L448.30 171.83L448.80 171.05L449.30 170.26L449.80 169.47L450.30 168.70L450.80 167.96L451.30 167.24L451.80 166.57L452.30 165.95L452.80 165.38L453.30 164.86L453.80 164.41L454.30 164.01L454.80 163.68L455.30 163.40L455.80 163.20L456.30 163.06L456.80 163.00L457.30 163.01L457.80 163.09L458.30 163.26L458.80 163.50L459.30 163.84L459.80 164.26L460.30 164.78L460.80 165.40L461.30 166.13L461.80 166.95L462.30 167.89L462.80 168.95L463.30 170.11L463.80 171.36L464.30 172.70L464.80 174.12L465.30 175.59L465.80 177.11L466.30 178.67L466.80 180.24L467.30 181.83L467.80 183.42L468.30 185.00L468.80 186.55L469.30 188.08L469.80 189.58L470.30 191.05L470.80 192.49L471.30 193.90L471.80 195.28L472.30 196.63L472.80 197.94L473.30 199.22L473.80 200.46L474.30 201.67L474.80 202.84L475.30 203.97L475.80 205.06L476.30 206.11L476.80 207.10L477.30 208.04L477.80 208.91L478.30 209.72L478.80 210.46L479.30 211.13L479.80 211.72L480.30 212.22L480.80 212.63L481.30 212.95L481.80 213.17L482.30 213.28L482.80 213.29L483.30 213.19L483.80 212.99L484.30 212.68L484.80 212.28L485.30 211.78L485.80 211.19L486.30 210.51L486.80 209.75L487.30 208.90L487.80 207.98L488.30 206.98L488.80 205.91L489.30 204.77L489.80 203.56L490.30 202.30L490.80 200.98L491.30 199.62L491.80 198.21L492.30 196.77L492.80 195.29L493.30 193.79L493.80 192.26L494.30 190.72L494.80 189.18L495.30 187.62L495.80 186.07L496.30 184.53L496.80 182.99L497.30 181.48L497.80 179.99L498.30 178.53L498.80 177.11L499.30 175.73L499.80 174.39L500.30 173.12L500.80 171.90L501.30 170.75L501.80 169.67L502.30 168.68L502.80 167.76L503.30 166.94L503.80 166.22L504.30 165.59L504.80 165.06L505.30 164.65L505.80 164.34L506.30 164.15L506.80 164.09L507.30 164.14L507.80 164.33L508.30 164.63L508.80 165.05L509.30 165.57L509.80 166.18L510.30 166.87L510.80 167.62L511.30 168.43L511.80 169.29L512.30 170.17L512.80 171.08L513.30 172.00L513.80 172.92L514.30 173.83L514.80 174.74L515.30 175.63L515.80 176.51L516.30 177.38L516.80 178.23L517.30 179.05L517.80 179.85L518.30 180.62L518.80 181.36L519.30 182.07L519.80 182.74L520.30 183.37L520.80 183.97L521.30 184.52L521.80 185.03L522.30 185.50L522.80 185.94L523.30 186.34L523.80 186.70L524.30 187.02L524.80 187.31L525.30 187.57L525.80 187.79L526.30 187.97L526.80 188.13L527.30 188.25L527.80 188.33L528.30 188.39L528.80 188.42L529.30 188.41L529.80 188.38L530.30 188.32L530.80 188.22L531.30 188.11L531.80 187.96L532.30 187.80L532.80 187.61L533.30 187.40L533.80 187.17L534.30 186.93L534.80 186.67L535.30 186.40L535.80 186.12L536.30 185.82L536.80 185.53L537.30 185.23L537.80 184.94L538.30 184.67L538.80 184.41L539.30 184.18L539.80 183.98L540.30 183.82L540.80 183.70L541.30 183.63L541.80 183.61L542.30 183.66L542.80 183.78L543.30 183.96L543.80 184.21L544.30 184.51L544.80 184.88L545.30 185.29L545.80 185.74L546.30 186.24L546.80 186.78L547.30 187.35L547.80 187.94L548.30 188.57L548.80 189.21L549.30 189.86L549.80 190.53L550.30 191.21L550.80 191.88L551.30 192.57L551.80 193.25L552.30 193.93L552.80 194.61L553.30 195.30L553.80 195.97L554.30 196.64L554.80 197.31L555.30 197.97L555.80 198.62L556.30 199.26L556.80 199.89L557.30 200.51L557.80 201.11L558.30 201.70L558.80 202.27L559.30 202.83L559.80 203.37L560.30 203.89L560.80 204.40L561.30 204.90L561.80 205.37L562.30 205.83L562.80 206.28L563.30 206.71L563.80 207.12L564.30 207.52L564.80 207.90L565.30 208.26L565.80 208.61L566.30 208.94L566.80 209.26L567.30 209.56L567.80 209.85L568.30 210.11L568.80 210.35L569.30 210.57L569.80 210.77L570.30 210.93L570.80 211.07L571.30 211.18L571.80 211.25L572.30 211.29L572.80 211.30L573.30 211.27L573.80 211.20L574.30 211.11L574.80 210.99L575.30 210.85L575.80 210.68L576.30 210.50L576.80 210.30L577.30 210.08L577.80 209.86L578.30 209.63L578.80 209.39L579.20 209.20" fill="none" stroke="#1a1a1a" stroke-width="1.8" stroke-linejoin="round" stroke-linecap="round"/>
<path d="M45.80 255.80L46.30 256.67L46.80 257.51L47.30 258.31L47.80 259.05L48.30 259.70L48.80 260.25L49.30 260.70L49.80 261.06L50.30 261.33L50.80 261.52L51.30 261.65L51.80 261.71L52.30 261.71L52.80 261.67L53.30 261.58L53.80 261.45L54.30 261.29L54.80 261.09L55.30 260.87L55.80 260.63L56.30 260.36L56.80 260.09L57.30 259.80L57.80 259.50L58.30 259.20L58.80 258.90L59.30 258.61L59.80 258.32L60.30 258.05L60.80 257.79L61.30 257.55L61.80 257.34L62.30 257.15L62.80 256.98L63.30 256.86L63.80 256.76L64.30 256.71L64.80 256.70L65.30 256.74L65.80 256.81L66.30 256.92L66.80 257.07L67.30 257.24L67.80 257.43L68.30 257.64L68.80 257.87L69.30 258.10L69.80 258.34L70.30 258.58L70.80 258.81L71.30 259.03L71.80 259.24L72.30 259.43L72.80 259.61L73.30 259.77L73.80 259.91L74.30 260.04L74.80 260.15L75.30 260.24L75.80 260.32L76.30 260.38L76.80 260.43L77.30 260.47L77.80 260.49L78.30 260.50L78.80 260.49L79.30 260.47L79.80 260.42L80.30 260.35L80.80 260.24L81.30 260.10L81.80 259.91L82.30 259.68L82.80 259.40L83.30 259.06L83.80 258.66L84.30 258.20L84.80 257.67L85.30 257.08L85.80 256.43L86.30 255.72L86.80 254.96L87.30 254.16L87.80 253.31L88.30 252.43L88.80 251.51L89.30 250.56L89.80 249.59L90.30 248.60L90.80 247.60L91.30 246.59L91.80 245.60L92.30 244.61L92.80 243.66L93.30 242.73L93.80 241.86L94.30 241.04L94.80 240.28L95.30 239.60L95.80 239.00L96.30 238.47L96.80 238.01L97.30 237.63L97.80 237.31L98.30 237.06L98.80 236.88L99.30 236.76L99.80 236.71L100.30 236.71L100.80 236.77L101.30 236.89L101.80 237.05L102.30 237.27L102.80 237.53L103.30 237.83L103.80 238.17L104.30 238.56L104.80 238.97L105.30 239.41L105.80 239.89L106.30 240.39L106.80 240.91L107.30 241.45L107.80 242.01L108.30 242.59L108.80 243.20L109.30 243.84L109.80 244.50L110.30 245.19L110.80 245.91L111.30 246.66L111.80 247.44L112.30 248.26L112.80 249.11L113.30 250.00L113.80 250.93L114.30 251.88L114.80 252.87L115.30 253.87L115.80 254.89L116.30 255.92L116.80 256.95L117.30 257.98L117.80 258.99L118.30 260.00L118.80 260.99L119.30 261.95L119.80 262.88L120.30 263.78L120.80 264.64L121.30 265.46L121.80 266.24L122.30 266.97L122.80 267.64L123.30 268.25L123.80 268.81L124.30 269.29L124.80 269.71L125.30 270.07L125.80 270.37L126.30 270.62L126.80 270.84L127.30 271.02L127.80 271.17L128.30 271.30L128.80 271.42L129.30 271.54L129.80 271.65L130.30 271.77L130.80 271.91L131.30 272.04L131.80 272.19L132.30 272.34L132.80 272.49L133.30 272.64L133.80 272.78L134.30 272.93L134.80 273.06L135.30 273.19L135.80 273.31L136.30 273.42L136.80 273.52L137.30 273.60L137.80 273.66L138.30 273.70L138.80 273.72L139.30 273.72L139.80 273.69L140.30 273.64L140.80 273.56L141.30 273.45L141.80 273.30L142.30 273.13L142.80 272.92L143.30 272.68L143.80 272.40L144.30 272.08L144.80 271.73L145.30 271.33L145.80 270.90L146.30 270.42L146.80 269.89L147.30 269.32L147.80 268.71L148.30 268.06L148.80 267.38L149.30 266.66L149.80 265.90L150.30 265.12L150.80 264.32L151.30 263.49L151.80 262.64L152.30 261.77L152.80 260.89L153.30 260.00L153.80 259.10L154.30 258.18L154.80 257.26L155.30 256.32L155.80 255.37L156.30 254.40L156.80 253.42L157.30 252.43L157.80 251.41L158.30 250.37L158.80 249.32L159.30 248.24L159.80 247.15L160.30 246.02L160.80 244.88L161.30 243.73L161.80 242.56L162.30 241.39L162.80 240.22L163.30 239.05L163.80 237.90L164.30 236.76L164.80 235.65L165.30 234.56L165.80 233.50L166.30 232.48L166.80 231.51L167.30 230.58L167.80 229.70L168.30 228.86L168.80 228.07L169.30 227.32L169.80 226.62L170.30 225.97L170.80 225.36L171.30 224.80L171.80 224.28L172.30 223.81L172.80 223.38L173.30 223.00L173.80 222.66L174.30 222.36L174.80 222.11L175.30 221.89L175.80 221.71L176.30 221.56L176.80 221.45L177.30 221.37L177.80 221.32L178.30 221.30L178.80 221.31L179.30 221.33L179.80 221.39L180.30 221.46L180.80 221.55L181.30 221.66L181.80 221.78L182.30 221.91L182.80 222.06L183.30 222.21L183.80 222.37L184.30 222.53L184.80 222.70L185.30 222.86L185.80 223.02L186.30 223.18L186.80 223.32L187.30 223.45L187.80 223.56L188.30 223.66L188.80 223.73L189.30 223.78L189.80 223.80L190.30 223.79L190.80 223.75L191.30 223.68L191.80 223.58L192.30 223.46L192.80 223.32L193.30 223.16L193.80 222.98L194.30 222.79L194.80 222.59L195.30 222.37L195.80 222.15L196.30 221.92L196.80 221.70L197.30 221.48L197.80 221.28L198.30 221.09L198.80 220.91L199.30 220.76L199.80 220.64L200.30 220.55L200.80 220.50L201.30 220.49L201.80 220.51L202.30 220.56L202.80 220.64L203.30 220.74L203.80 220.86L204.30 221.00L204.80 221.14L205.30 221.29L205.80 221.44L206.30 221.59L206.80 221.73L207.30 221.85L207.80 221.96L208.30 222.06L208.80 222.13L209.30 222.19L209.80 222.22L210.30 222.22L210.80 222.20L211.30 222.15L211.80 222.07L212.30 221.97L212.80 221.86L213.30 221.73L213.80 221.59L214.30 221.45L214.80 221.31L215.30 221.17L215.80 221.03L216.30 220.91L216.80 220.81L217.30 220.73L217.80 220.67L218.30 220.64L218.80 220.64L219.30 220.68L219.80 220.76L220.30 220.88L220.80 221.05L221.30 221.27L221.80 221.53L222.30 221.83L222.80 222.18L223.30 222.57L223.80 223.00L224.30 223.47L224.80 223.98L225.30 224.53L225.80 225.12L226.30 225.73L226.80 226.37L227.30 227.03L227.80 227.70L228.30 228.38L228.80 229.06L229.30 229.73L229.80 230.41L230.30 231.06L230.80 231.70L231.30 232.31L231.80 232.90L232.30 233.46L232.80 233.98L233.30 234.47L233.80 234.93L234.30 235.34L234.80 235.71L235.30 236.03L235.80 236.30L236.30 236.52L236.80 236.69L237.30 236.81L237.80 236.87L238.30 236.88L238.80 236.83L239.30 236.73L239.80 236.58L240.30 236.37L240.80 236.10L241.30 235.79L241.80 235.44L242.30 235.04L242.80 234.62L243.30 234.17L243.80 233.70L244.30 233.21L244.80 232.71L245.30 232.20L245.80 231.70L246.30 231.19L246.80 230.70L247.30 230.22L247.80 229.76L248.30 229.32L248.80 228.91L249.30 228.51L249.80 228.15L250.30 227.82L250.80 227.52L251.30 227.26L251.80 227.05L252.30 226.87L252.80 226.74L253.30 226.66L253.80 226.62L254.30 226.63L254.80 226.67L255.30 226.74L255.80 226.84L256.30 226.95L256.80 227.09L257.30 227.22L257.80 227.37L258.30 227.51L258.80 227.64L259.30 227.77L259.80 227.87L260.30 227.95L260.80 228.00L261.30 228.02L261.80 228.01L262.30 227.97L262.80 227.91L263.30 227.84L263.80 227.76L264.30 227.66L264.80 227.57L265.30 227.47L265.80 227.39L266.30 227.31L266.80 227.25L267.30 227.21L267.80 227.19L268.30 227.20L268.80 227.24L269.30 227.32L269.80 227.42L270.30 227.55L270.80 227.71L271.30 227.89L271.80 228.09L272.30 228.31L272.80 228.55L273.30 228.80L273.80 229.07L274.30 229.35L274.80 229.64L275.30 229.94L275.80 230.24L276.30 230.55L276.80 230.86L277.30 231.17L277.80 231.49L278.30 231.80L278.80 232.12L279.30 232.44L279.80 232.76L280.30 233.08L280.80 233.41L281.30 233.75L281.80 234.09L282.30 234.43L282.80 234.78L283.30 235.14L283.80 235.50L284.30 235.87L284.80 236.25L285.30 236.63L285.80 237.01L286.30 237.38L286.80 237.73L287.30 238.07L287.80 238.38L288.30 238.67L288.80 238.92L289.30 239.14L289.80 239.31L290.30 239.43L290.80 239.50L291.30 239.51L291.80 239.47L292.30 239.38L292.80 239.23L293.30 239.04L293.80 238.80L294.30 238.53L294.80 238.21L295.30 237.86L295.80 237.47L296.30 237.05L296.80 236.61L297.30 236.14L297.80 235.65L298.30 235.14L298.80 234.62L299.30 234.09L299.80 233.56L300.30 233.02L300.80 232.49L301.30 231.96L301.80 231.45L302.30 230.95L302.80 230.46L303.30 230.00L303.80 229.56L304.30 229.15L304.80 228.77L305.30 228.42L305.80 228.10L306.30 227.81L306.80 227.54L307.30 227.32L307.80 227.12L308.30 226.96L308.80 226.83L309.30 226.74L309.80 226.69L310.30 226.68L310.80 226.70L311.30 226.76L311.80 226.87L312.30 227.01L312.80 227.19L313.30 227.41L313.80 227.67L314.30 227.97L314.80 228.31L315.30 228.68L315.80 229.10L316.30 229.55L316.80 230.05L317.30 230.58L317.80 231.15L318.30 231.75L318.80 232.40L319.30 233.08L319.80 233.81L320.30 234.57L320.80 235.38L321.30 236.22L321.80 237.10L322.30 238.03L322.80 238.99L323.30 240.00L323.80 241.05L324.30 242.13L324.80 243.23L325.30 244.34L325.80 245.46L326.30 246.58L326.80 247.68L327.30 248.75L327.80 249.80L328.30 250.80L328.80 251.75L329.30 252.66L329.80 253.51L330.30 254.32L330.80 255.09L331.30 255.81L331.80 256.49L332.30 257.13L332.80 257.73L333.30 258.30L333.80 258.83L334.30 259.33L334.80 259.81L335.30 260.26L335.80 260.68L336.30 261.09L336.80 261.48L337.30 261.86L337.80 262.22L338.30 262.58L338.80 262.94L339.30 263.30L339.80 263.66L340.30 264.02L340.80 264.39L341.30 264.76L341.80 265.13L342.30 265.50L342.80 265.86L343.30 266.22L343.80 266.57L344.30 266.91L344.80 267.23L345.30 267.54L345.80 267.83L346.30 268.10L346.80 268.35L347.30 268.57L347.80 268.77L348.30 268.94L348.80 269.09L349.30 269.23L349.80 269.34L350.30 269.43L350.80 269.51L351.30 269.57L351.80 269.61L352.30 269.64L352.80 269.65L353.30 269.65L353.80 269.64L354.30 269.62L354.80 269.59L355.30 269.55L355.80 269.50L356.30 269.44L356.80 269.38L357.30 269.30L357.80 269.20L358.30 269.08L358.80 268.94L359.30 268.77L359.80 268.58L360.30 268.35L360.80 268.08L361.30 267.78L361.80 267.43L362.30 267.03L362.80 266.60L363.30 266.13L363.80 265.63L364.30 265.10L364.80 264.54L365.30 263.97L365.80 263.38L366.30 262.77L366.80 262.16L367.30 261.54L367.80 260.92L368.30 260.31L368.80 259.70L369.30 259.11L369.80 258.53L370.30 257.97L370.80 257.43L371.30 256.91L371.80 256.41L372.30 255.94L372.80 255.49L373.30 255.06L373.80 254.66L374.30 254.28L374.80 253.92L375.30 253.59L375.80 253.28L376.30 253.00L376.80 252.74L377.30 252.51L377.80 252.30L378.30 252.12L378.80 251.97L379.30 251.84L379.80 251.74L380.30 251.67L380.80 251.63L381.30 251.62L381.80 251.63L382.30 251.67L382.80 251.75L383.30 251.85L383.80 251.98L384.30 252.14L384.80 252.33L385.30 252.54L385.80 252.78L386.30 253.05L386.80 253.34L387.30 253.66L387.80 254.00L388.30 254.37L388.80 254.76L389.30 255.18L389.80 255.62L390.30 256.08L390.80 256.56L391.30 257.06L391.80 257.57L392.30 258.09L392.80 258.61L393.30 259.14L393.80 259.67L394.30 260.19L394.80 260.70L395.30 261.20L395.80 261.68L396.30 262.15L396.80 262.59L397.30 263.00L397.80 263.39L398.30 263.74L398.80 264.07L399.30 264.36L399.80 264.62L400.30 264.84L400.80 265.02L401.30 265.15L401.80 265.25L402.30 265.30L402.80 265.31L403.30 265.27L403.80 265.18L404.30 265.05L404.80 264.87L405.30 264.65L405.80 264.38L406.30 264.08L406.80 263.74L407.30 263.37L407.80 262.96L408.30 262.52L408.80 262.05L409.30 261.55L409.80 261.02L410.30 260.46L410.80 259.89L411.30 259.29L411.80 258.68L412.30 258.05L412.80 257.42L413.30 256.78L413.80 256.13L414.30 255.49L414.80 254.85L415.30 254.22L415.80 253.60L416.30 253.00L416.80 252.41L417.30 251.85L417.80 251.31L418.30 250.80L418.80 250.32L419.30 249.87L419.80 249.45L420.30 249.05L420.80 248.67L421.30 248.31L421.80 247.97L422.30 247.65L422.80 247.33L423.30 247.03L423.80 246.73L424.30 246.43L424.80 246.14L425.30 245.85L425.80 245.55L426.30 245.25L426.80 244.94L427.30 244.62L427.80 244.28L428.30 243.94L428.80 243.59L429.30 243.23L429.80 242.86L430.30 242.48L430.80 242.09L431.30 241.69L431.80 241.28L432.30 240.86L432.80 240.43L433.30 240.00L433.80 239.56L434.30 239.12L434.80 238.68L435.30 238.26L435.80 237.85L436.30 237.48L436.80 237.14L437.30 236.84L437.80 236.60L438.30 236.41L438.80 236.29L439.30 236.24L439.80 236.26L440.30 236.38L440.80 236.58L441.30 236.86L441.80 237.21L442.30 237.63L442.80 238.12L443.30 238.65L443.80 239.24L444.30 239.86L444.80 240.53L445.30 241.22L445.80 241.94L446.30 242.68L446.80 243.44L447.30 244.23L447.80 245.03L448.30 245.85L448.80 246.69L449.30 247.53L449.80 248.39L450.30 249.25L450.80 250.12L451.30 251.00L451.80 251.88L452.30 252.75L452.80 253.63L453.30 254.50L453.80 255.37L454.30 256.23L454.80 257.07L455.30 257.91L455.80 258.72L456.30 259.52L456.80 260.30L457.30 261.06L457.80 261.79L458.30 262.50L458.80 263.18L459.30 263.83L459.80 264.44L460.30 265.03L460.80 265.59L461.30 266.12L461.80 266.61L462.30 267.08L462.80 267.51L463.30 267.91L463.80 268.28L464.30 268.61L464.80 268.91L465.30 269.18L465.80 269.41L466.30 269.61L466.80 269.78L467.30 269.91L467.80 270.01L468.30 270.07L468.80 270.09L469.30 270.08L469.80 270.03L470.30 269.94L470.80 269.82L471.30 269.67L471.80 269.48L472.30 269.26L472.80 269.02L473.30 268.75L473.80 268.45L474.30 268.13L474.80 267.79L475.30 267.43L475.80 267.06L476.30 266.67L476.80 266.27L477.30 265.85L477.80 265.43L478.30 265.00L478.80 264.56L479.30 264.12L479.80 263.68L480.30 263.23L480.80 262.78L481.30 262.32L481.80 261.86L482.30 261.40L482.80 260.94L483.30 260.47L483.80 260.00L484.30 259.54L484.80 259.07L485.30 258.60L485.80 258.13L486.30 257.66L486.80 257.19L487.30 256.73L487.80 256.26L488.30 255.80L488.80 255.34L489.30 254.88L489.80 254.42L490.30 253.96L490.80 253.50L491.30 253.04L491.80 252.58L492.30 252.11L492.80 251.63L493.30 251.15L493.80 250.66L494.30 250.17L494.80 249.66L495.30 249.15L495.80 248.62L496.30 248.09L496.80 247.54L497.30 246.97L497.80 246.39L498.30 245.80L498.80 245.19L499.30 244.57L499.80 243.93L500.30 243.28L500.80 242.63L501.30 241.96L501.80 241.30L502.30 240.63L502.80 239.96L503.30 239.30L503.80 238.64L504.30 237.98L504.80 237.34L505.30 236.70L505.80 236.08L506.30 235.47L506.80 234.88L507.30 234.31L507.80 233.76L508.30 233.23L508.80 232.72L509.30 232.23L509.80 231.76L510.30 231.32L510.80 230.91L511.30 230.52L511.80 230.16L512.30 229.83L512.80 229.52L513.30 229.24L513.80 229.00L514.30 228.78L514.80 228.59L515.30 228.42L515.80 228.28L516.30 228.17L516.80 228.09L517.30 228.03L517.80 227.99L518.30 227.99L518.80 228.00L519.30 228.04L519.80 228.10L520.30 228.18L520.80 228.27L521.30 228.38L521.80 228.50L522.30 228.62L522.80 228.76L523.30 228.89L523.80 229.03L524.30 229.16L524.80 229.29L525.30 229.42L525.80 229.53L526.30 229.63L526.80 229.72L527.30 229.78L527.80 229.84L528.30 229.88L528.80 229.91L529.30 229.94L529.80 229.95L530.30 229.97L530.80 229.98L531.30 229.99L531.80 230.01L532.30 230.03L532.80 230.05L533.30 230.09L533.80 230.13L534.30 230.19L534.80 230.27L535.30 230.36L535.80 230.47L536.30 230.59L536.80 230.72L537.30 230.87L537.80 231.03L538.30 231.19L538.80 231.36L539.30 231.53L539.80 231.70L540.30 231.87L540.80 232.03L541.30 232.19L541.80 232.34L542.30 232.49L542.80 232.62L543.30 232.73L543.80 232.83L544.30 232.92L544.80 232.98L545.30 233.02L545.80 233.04L546.30 233.05L546.80 233.03L547.30 233.01L547.80 232.98L548.30 232.94L548.80 232.90L549.30 232.87L549.80 232.83L550.30 232.81L550.80 232.80L551.30 232.80L551.80 232.81L552.30 232.85L552.80 232.91L553.30 233.00L553.80 233.12L554.30 233.26L554.80 233.44L555.30 233.63L555.80 233.86L556.30 234.11L556.80 234.37L557.30 234.66L557.80 234.97L558.30 235.30L558.80 235.64L559.30 236.00L559.80 236.36L560.30 236.73L560.80 237.09L561.30 237.45L561.80 237.80L562.30 238.14L562.80 238.45L563.30 238.75L563.80 239.01L564.30 239.24L564.80 239.44L565.30 239.61L565.80 239.74L566.30 239.85L566.80 239.94L567.30 240.01L567.80 240.06L568.30 240.10L568.80 240.13L569.30 240.16L569.80 240.18L570.30 240.20L570.80 240.23L571.30 240.27L571.80 240.31L572.30 240.37L572.80 240.44L573.30 240.52L573.80 240.61L574.30 240.71L574.80 240.81L575.30 240.93L575.80 241.05L576.30 241.18L576.80 241.32L577.30 241.45L577.80 241.59L578.30 241.74L578.80 241.88L579.20 242.00" fill="none" stroke="#1a1a1a" stroke-width="1.8" stroke-linejoin="round" stroke-linecap="round"/>
<path d="M45.80 303.30L46.30 303.91L46.80 304.52L47.30 305.13L47.80 305.75L48.30 306.37L48.80 307.00L49.30 307.63L49.80 308.27L50.30 308.92L50.80 309.58L51.30 310.25L51.80 310.94L52.30 311.63L52.80 312.34L53.30 313.05L53.80 313.76L54.30 314.46L54.80 315.17L55.30 315.86L55.80 316.54L56.30 317.20L56.80 317.84L57.30 318.46L57.80 319.05L58.30 319.61L58.80 320.12L59.30 320.59L59.80 321.01L60.30 321.37L60.80 321.66L61.30 321.88L61.80 322.02L62.30 322.08L62.80 322.04L63.30 321.91L63.80 321.68L64.30 321.36L64.80 320.97L65.30 320.51L65.80 320.00L66.30 319.44L66.80 318.85L67.30 318.23L67.80 317.59L68.30 316.94L68.80 316.30L69.30 315.68L69.80 315.07L70.30 314.49L70.80 313.93L71.30 313.41L71.80 312.92L72.30 312.46L72.80 312.05L73.30 311.68L73.80 311.35L74.30 311.07L74.80 310.84L75.30 310.67L75.80 310.56L76.30 310.50L76.80 310.51L77.30 310.58L77.80 310.71L78.30 310.90L78.80 311.14L79.30 311.43L79.80 311.76L80.30 312.13L80.80 312.54L81.30 312.99L81.80 313.46L82.30 313.95L82.80 314.47L83.30 315.00L83.80 315.54L84.30 316.09L84.80 316.64L85.30 317.17L85.80 317.69L86.30 318.18L86.80 318.64L87.30 319.06L87.80 319.44L88.30 319.76L88.80 320.01L89.30 320.20L89.80 320.32L90.30 320.34L90.80 320.28L91.30 320.12L91.80 319.85L92.30 319.46L92.80 318.94L93.30 318.30L93.80 317.51L94.30 316.58L94.80 315.48L95.30 314.23L95.80 312.82L96.30 311.28L96.80 309.64L97.30 307.91L97.80 306.14L98.30 304.33L98.80 302.52L99.30 300.73L99.80 298.98L100.30 297.30L100.80 295.70L101.30 294.18L101.80 292.74L102.30 291.39L102.80 290.11L103.30 288.92L103.80 287.81L104.30 286.79L104.80 285.85L105.30 285.00L105.80 284.23L106.30 283.56L106.80 282.97L107.30 282.48L107.80 282.08L108.30 281.78L108.80 281.57L109.30 281.47L109.80 281.47L110.30 281.57L110.80 281.78L111.30 282.09L111.80 282.51L112.30 283.02L112.80 283.63L113.30 284.35L113.80 285.16L114.30 286.07L114.80 287.07L115.30 288.17L115.80 289.36L116.30 290.63L116.80 291.96L117.30 293.36L117.80 294.81L118.30 296.29L118.80 297.81L119.30 299.34L119.80 300.89L120.30 302.44L120.80 303.98L121.30 305.50L121.80 307.00L122.30 308.45L122.80 309.88L123.30 311.26L123.80 312.62L124.30 313.94L124.80 315.22L125.30 316.47L125.80 317.69L126.30 318.88L126.80 320.03L127.30 321.15L127.80 322.24L128.30 323.30L128.80 324.33L129.30 325.33L129.80 326.29L130.30 327.22L130.80 328.12L131.30 328.99L131.80 329.82L132.30 330.61L132.80 331.37L133.30 332.10L133.80 332.78L134.30 333.43L134.80 334.03L135.30 334.60L135.80 335.12L136.30 335.60L136.80 336.03L137.30 336.41L137.80 336.73L138.30 337.01L138.80 337.22L139.30 337.38L139.80 337.48L140.30 337.51L140.80 337.49L141.30 337.40L141.80 337.25L142.30 337.04L142.80 336.78L143.30 336.46L143.80 336.09L144.30 335.67L144.80 335.20L145.30 334.68L145.80 334.12L146.30 333.51L146.80 332.86L147.30 332.18L147.80 331.46L148.30 330.71L148.80 329.93L149.30 329.13L149.80 328.30L150.30 327.45L150.80 326.59L151.30 325.71L151.80 324.82L152.30 323.92L152.80 323.01L153.30 322.09L153.80 321.15L154.30 320.20L154.80 319.22L155.30 318.23L155.80 317.21L156.30 316.16L156.80 315.09L157.30 313.99L157.80 312.86L158.30 311.70L158.80 310.50L159.30 309.27L159.80 308.01L160.30 306.71L160.80 305.38L161.30 304.02L161.80 302.63L162.30 301.22L162.80 299.77L163.30 298.30L163.80 296.80L164.30 295.28L164.80 293.73L165.30 292.17L165.80 290.57L166.30 288.96L166.80 287.32L167.30 285.67L167.80 283.99L168.30 282.31L168.80 280.62L169.30 278.95L169.80 277.30L170.30 275.69L170.80 274.13L171.30 272.63L171.80 271.20L172.30 269.87L172.80 268.63L173.30 267.50L173.80 266.49L174.30 265.61L174.80 264.83L175.30 264.17L175.80 263.61L176.30 263.14L176.80 262.78L177.30 262.50L177.80 262.30L178.30 262.19L178.80 262.15L179.30 262.18L179.80 262.27L180.30 262.42L180.80 262.63L181.30 262.89L181.80 263.21L182.30 263.59L182.80 264.02L183.30 264.52L183.80 265.08L184.30 265.71L184.80 266.40L185.30 267.17L185.80 268.00L186.30 268.88L186.80 269.83L187.30 270.82L187.80 271.85L188.30 272.91L188.80 274.00L189.30 275.12L189.80 276.25L190.30 277.38L190.80 278.52L191.30 279.65L191.80 280.75L192.30 281.83L192.80 282.86L193.30 283.85L193.80 284.78L194.30 285.64L194.80 286.41L195.30 287.10L195.80 287.70L196.30 288.23L196.80 288.68L197.30 289.07L197.80 289.41L198.30 289.71L198.80 289.98L199.30 290.22L199.80 290.45L200.30 290.68L200.80 290.91L201.30 291.15L201.80 291.41L202.30 291.69L202.80 291.98L203.30 292.30L203.80 292.64L204.30 293.00L204.80 293.38L205.30 293.78L205.80 294.21L206.30 294.66L206.80 295.13L207.30 295.63L207.80 296.15L208.30 296.70L208.80 297.28L209.30 297.88L209.80 298.50L210.30 299.14L210.80 299.80L211.30 300.48L211.80 301.17L212.30 301.87L212.80 302.58L213.30 303.30L213.80 304.02L214.30 304.74L214.80 305.46L215.30 306.17L215.80 306.87L216.30 307.55L216.80 308.20L217.30 308.83L217.80 309.43L218.30 310.00L218.80 310.53L219.30 311.01L219.80 311.44L220.30 311.83L220.80 312.16L221.30 312.42L221.80 312.63L222.30 312.77L222.80 312.83L223.30 312.83L223.80 312.78L224.30 312.68L224.80 312.56L225.30 312.42L225.80 312.28L226.30 312.15L226.80 312.05L227.30 311.98L227.80 311.96L228.30 312.00L228.80 312.11L229.30 312.29L229.80 312.52L230.30 312.81L230.80 313.13L231.30 313.48L231.80 313.85L232.30 314.23L232.80 314.62L233.30 315.00L233.80 315.37L234.30 315.72L234.80 316.07L235.30 316.40L235.80 316.73L236.30 317.05L236.80 317.37L237.30 317.69L237.80 318.02L238.30 318.34L238.80 318.67L239.30 319.01L239.80 319.36L240.30 319.72L240.80 320.08L241.30 320.45L241.80 320.81L242.30 321.16L242.80 321.48L243.30 321.77L243.80 322.02L244.30 322.23L244.80 322.38L245.30 322.48L245.80 322.50L246.30 322.45L246.80 322.33L247.30 322.14L247.80 321.89L248.30 321.58L248.80 321.21L249.30 320.80L249.80 320.35L250.30 319.85L250.80 319.32L251.30 318.77L251.80 318.18L252.30 317.58L252.80 316.95L253.30 316.32L253.80 315.67L254.30 315.02L254.80 314.37L255.30 313.71L255.80 313.06L256.30 312.42L256.80 311.79L257.30 311.17L257.80 310.58L258.30 310.00L258.80 309.45L259.30 308.93L259.80 308.43L260.30 307.95L260.80 307.50L261.30 307.08L261.80 306.68L262.30 306.31L262.80 305.97L263.30 305.64L263.80 305.35L264.30 305.08L264.80 304.83L265.30 304.61L265.80 304.41L266.30 304.24L266.80 304.09L267.30 303.97L267.80 303.87L268.30 303.80L268.80 303.75L269.30 303.74L269.80 303.76L270.30 303.83L270.80 303.95L271.30 304.13L271.80 304.38L272.30 304.70L272.80 305.10L273.30 305.58L273.80 306.16L274.30 306.84L274.80 307.63L275.30 308.50L275.80 309.45L276.30 310.45L276.80 311.50L277.30 312.58L277.80 313.68L278.30 314.77L278.80 315.85L279.30 316.91L279.80 317.91L280.30 318.86L280.80 319.75L281.30 320.57L281.80 321.34L282.30 322.05L282.80 322.70L283.30 323.31L283.80 323.86L284.30 324.37L284.80 324.83L285.30 325.25L285.80 325.62L286.30 325.96L286.80 326.25L287.30 326.50L287.80 326.72L288.30 326.89L288.80 327.03L289.30 327.13L289.80 327.19L290.30 327.21L290.80 327.20L291.30 327.15L291.80 327.07L292.30 326.97L292.80 326.83L293.30 326.67L293.80 326.49L294.30 326.29L294.80 326.07L295.30 325.84L295.80 325.59L296.30 325.32L296.80 325.05L297.30 324.77L297.80 324.49L298.30 324.20L298.80 323.91L299.30 323.62L299.80 323.33L300.30 323.03L300.80 322.73L301.30 322.43L301.80 322.12L302.30 321.81L302.80 321.50L303.30 321.17L303.80 320.84L304.30 320.51L304.80 320.16L305.30 319.81L305.80 319.45L306.30 319.08L306.80 318.70L307.30 318.31L307.80 317.91L308.30 317.50L308.80 317.08L309.30 316.64L309.80 316.20L310.30 315.76L310.80 315.31L311.30 314.87L311.80 314.42L312.30 313.99L312.80 313.56L313.30 313.14L313.80 312.73L314.30 312.33L314.80 311.96L315.30 311.60L315.80 311.27L316.30 310.96L316.80 310.68L317.30 310.43L317.80 310.21L318.30 310.02L318.80 309.87L319.30 309.77L319.80 309.70L320.30 309.68L320.80 309.70L321.30 309.77L321.80 309.89L322.30 310.06L322.80 310.27L323.30 310.53L323.80 310.82L324.30 311.16L324.80 311.54L325.30 311.95L325.80 312.40L326.30 312.89L326.80 313.41L327.30 313.96L327.80 314.53L328.30 315.13L328.80 315.73L329.30 316.35L329.80 316.96L330.30 317.57L330.80 318.17L331.30 318.76L331.80 319.32L332.30 319.85L332.80 320.34L333.30 320.80L333.80 321.21L334.30 321.58L334.80 321.92L335.30 322.24L335.80 322.53L336.30 322.82L336.80 323.10L337.30 323.38L337.80 323.68L338.30 324.00L338.80 324.34L339.30 324.71L339.80 325.12L340.30 325.58L340.80 326.08L341.30 326.62L341.80 327.17L342.30 327.73L342.80 328.29L343.30 328.83L343.80 329.35L344.30 329.83L344.80 330.26L345.30 330.62L345.80 330.91L346.30 331.12L346.80 331.23L347.30 331.23L347.80 331.11L348.30 330.88L348.80 330.54L349.30 330.11L349.80 329.61L350.30 329.04L350.80 328.42L351.30 327.76L351.80 327.07L352.30 326.38L352.80 325.68L353.30 325.00L353.80 324.34L354.30 323.72L354.80 323.12L355.30 322.56L355.80 322.04L356.30 321.55L356.80 321.10L357.30 320.70L357.80 320.34L358.30 320.02L358.80 319.75L359.30 319.53L359.80 319.37L360.30 319.26L360.80 319.20L361.30 319.20L361.80 319.25L362.30 319.35L362.80 319.49L363.30 319.67L363.80 319.87L364.30 320.10L364.80 320.34L365.30 320.59L365.80 320.85L366.30 321.10L366.80 321.35L367.30 321.58L367.80 321.80L368.30 322.00L368.80 322.17L369.30 322.31L369.80 322.41L370.30 322.48L370.80 322.50L371.30 322.48L371.80 322.41L372.30 322.29L372.80 322.12L373.30 321.91L373.80 321.65L374.30 321.34L374.80 320.99L375.30 320.58L375.80 320.13L376.30 319.63L376.80 319.09L377.30 318.49L377.80 317.86L378.30 317.19L378.80 316.50L379.30 315.78L379.80 315.04L380.30 314.30L380.80 313.56L381.30 312.81L381.80 312.08L382.30 311.36L382.80 310.67L383.30 310.00L383.80 309.37L384.30 308.77L384.80 308.21L385.30 307.69L385.80 307.22L386.30 306.80L386.80 306.42L387.30 306.09L387.80 305.82L388.30 305.60L388.80 305.44L389.30 305.34L389.80 305.30L390.30 305.32L390.80 305.41L391.30 305.56L391.80 305.77L392.30 306.05L392.80 306.37L393.30 306.76L393.80 307.20L394.30 307.70L394.80 308.25L395.30 308.85L395.80 309.50L396.30 310.20L396.80 310.95L397.30 311.75L397.80 312.59L398.30 313.47L398.80 314.38L399.30 315.31L399.80 316.28L400.30 317.26L400.80 318.25L401.30 319.26L401.80 320.27L402.30 321.29L402.80 322.30L403.30 323.30L403.80 324.29L404.30 325.26L404.80 326.20L405.30 327.11L405.80 327.97L406.30 328.79L406.80 329.54L407.30 330.23L407.80 330.84L408.30 331.37L408.80 331.80L409.30 332.14L409.80 332.38L410.30 332.50L410.80 332.50L411.30 332.39L411.80 332.17L412.30 331.85L412.80 331.43L413.30 330.93L413.80 330.35L414.30 329.70L414.80 328.99L415.30 328.21L415.80 327.39L416.30 326.52L416.80 325.62L417.30 324.68L417.80 323.72L418.30 322.75L418.80 321.76L419.30 320.77L419.80 319.77L420.30 318.78L420.80 317.81L421.30 316.85L421.80 315.91L422.30 315.00L422.80 314.13L423.30 313.30L423.80 312.52L424.30 311.78L424.80 311.08L425.30 310.43L425.80 309.82L426.30 309.25L426.80 308.73L427.30 308.24L427.80 307.79L428.30 307.37L428.80 306.99L429.30 306.64L429.80 306.33L430.30 306.05L430.80 305.80L431.30 305.58L431.80 305.38L432.30 305.20L432.80 305.03L433.30 304.87L433.80 304.71L434.30 304.54L434.80 304.37L435.30 304.17L435.80 303.96L436.30 303.72L436.80 303.44L437.30 303.12L437.80 302.76L438.30 302.35L438.80 301.89L439.30 301.36L439.80 300.76L440.30 300.09L440.80 299.35L441.30 298.56L441.80 297.74L442.30 296.88L442.80 296.02L443.30 295.17L443.80 294.33L444.30 293.53L444.80 292.78L445.30 292.10L445.80 291.48L446.30 290.93L446.80 290.44L447.30 290.03L447.80 289.68L448.30 289.40L448.80 289.18L449.30 289.03L449.80 288.94L450.30 288.92L450.80 288.97L451.30 289.07L451.80 289.24L452.30 289.47L452.80 289.77L453.30 290.12L453.80 290.54L454.30 291.03L454.80 291.57L455.30 292.18L455.80 292.84L456.30 293.57L456.80 294.36L457.30 295.21L457.80 296.12L458.30 297.08L458.80 298.08L459.30 299.12L459.80 300.20L460.30 301.30L460.80 302.44L461.30 303.59L461.80 304.76L462.30 305.93L462.80 307.12L463.30 308.30L463.80 309.48L464.30 310.65L464.80 311.82L465.30 312.98L465.80 314.13L466.30 315.27L466.80 316.39L467.30 317.51L467.80 318.62L468.30 319.71L468.80 320.78L469.30 321.84L469.80 322.89L470.30 323.91L470.80 324.92L471.30 325.90L471.80 326.86L472.30 327.79L472.80 328.68L473.30 329.54L473.80 330.35L474.30 331.13L474.80 331.85L475.30 332.53L475.80 333.15L476.30 333.72L476.80 334.22L477.30 334.67L477.80 335.04L478.30 335.35L478.80 335.58L479.30 335.73L479.80 335.81L480.30 335.80L480.80 335.72L481.30 335.56L481.80 335.32L482.30 335.02L482.80 334.66L483.30 334.23L483.80 333.75L484.30 333.21L484.80 332.63L485.30 331.99L485.80 331.32L486.30 330.60L486.80 329.85L487.30 329.06L487.80 328.25L488.30 327.41L488.80 326.55L489.30 325.68L489.80 324.79L490.30 323.90L490.80 323.00L491.30 322.10L491.80 321.20L492.30 320.31L492.80 319.43L493.30 318.57L493.80 317.72L494.30 316.90L494.80 316.11L495.30 315.35L495.80 314.62L496.30 313.92L496.80 313.25L497.30 312.62L497.80 312.01L498.30 311.44L498.80 310.90L499.30 310.38L499.80 309.90L500.30 309.44L500.80 309.01L501.30 308.60L501.80 308.23L502.30 307.88L502.80 307.55L503.30 307.23L503.80 306.93L504.30 306.64L504.80 306.35L505.30 306.06L505.80 305.77L506.30 305.46L506.80 305.14L507.30 304.81L507.80 304.45L508.30 304.07L508.80 303.65L509.30 303.20L509.80 302.71L510.30 302.17L510.80 301.60L511.30 300.98L511.80 300.33L512.30 299.66L512.80 298.96L513.30 298.24L513.80 297.51L514.30 296.78L514.80 296.04L515.30 295.30L515.80 294.58L516.30 293.86L516.80 293.16L517.30 292.49L517.80 291.84L518.30 291.21L518.80 290.63L519.30 290.07L519.80 289.56L520.30 289.08L520.80 288.66L521.30 288.28L521.80 287.95L522.30 287.68L522.80 287.46L523.30 287.31L523.80 287.22L524.30 287.20L524.80 287.25L525.30 287.37L525.80 287.56L526.30 287.80L526.80 288.11L527.30 288.48L527.80 288.91L528.30 289.40L528.80 289.93L529.30 290.52L529.80 291.16L530.30 291.85L530.80 292.58L531.30 293.35L531.80 294.17L532.30 295.02L532.80 295.91L533.30 296.82L533.80 297.77L534.30 298.73L534.80 299.71L535.30 300.71L535.80 301.71L536.30 302.72L536.80 303.72L537.30 304.72L537.80 305.72L538.30 306.70L538.80 307.66L539.30 308.61L539.80 309.52L540.30 310.41L540.80 311.26L541.30 312.08L541.80 312.85L542.30 313.57L542.80 314.24L543.30 314.85L543.80 315.40L544.30 315.89L544.80 316.31L545.30 316.66L545.80 316.95L546.30 317.18L546.80 317.35L547.30 317.45L547.80 317.50L548.30 317.50L548.80 317.45L549.30 317.35L549.80 317.23L550.30 317.09L550.80 316.96L551.30 316.83L551.80 316.73L552.30 316.67L552.80 316.65L553.30 316.70L553.80 316.82L554.30 317.02L554.80 317.28L555.30 317.61L555.80 318.00L556.30 318.46L556.80 318.97L557.30 319.53L557.80 320.14L558.30 320.80L558.80 321.50L559.30 322.23L559.80 322.99L560.30 323.74L560.80 324.49L561.30 325.22L561.80 325.92L562.30 326.57L562.80 327.16L563.30 327.68L563.80 328.11L564.30 328.45L564.80 328.69L565.30 328.79L565.80 328.77L566.30 328.61L566.80 328.33L567.30 327.94L567.80 327.46L568.30 326.89L568.80 326.25L569.30 325.54L569.80 324.79L570.30 324.00L570.80 323.19L571.30 322.36L571.80 321.54L572.30 320.72L572.80 319.91L573.30 319.10L573.80 318.31L574.30 317.52L574.80 316.73L575.30 315.96L575.80 315.18L576.30 314.41L576.80 313.65L577.30 312.88L577.80 312.12L578.30 311.36L578.80 310.61L579.20 310.00" fill="none" stroke="#1a1a1a" stroke-width="1.8" stroke-linejoin="round" stroke-linecap="round"/>
<path d="M45.80 370.80L46.30 371.35L46.80 371.88L47.30 372.40L47.80 372.90L48.30 373.36L48.80 373.79L49.30 374.16L49.80 374.48L50.30 374.73L50.80 374.91L51.30 375.00L51.80 375.01L52.30 374.93L52.80 374.78L53.30 374.57L53.80 374.30L54.30 373.98L54.80 373.61L55.30 373.22L55.80 372.80L56.30 372.36L56.80 371.91L57.30 371.46L57.80 371.02L58.30 370.59L58.80 370.19L59.30 369.81L59.80 369.47L60.30 369.17L60.80 368.92L61.30 368.73L61.80 368.60L62.30 368.55L62.80 368.58L63.30 368.70L63.80 368.91L64.30 369.21L64.80 369.58L65.30 370.03L65.80 370.53L66.30 371.10L66.80 371.70L67.30 372.35L67.80 373.02L68.30 373.72L68.80 374.43L69.30 375.14L69.80 375.85L70.30 376.55L70.80 377.23L71.30 377.88L71.80 378.50L72.30 379.08L72.80 379.60L73.30 380.07L73.80 380.47L74.30 380.79L74.80 381.04L75.30 381.19L75.80 381.25L76.30 381.20L76.80 381.04L77.30 380.78L77.80 380.42L78.30 379.98L78.80 379.47L79.30 378.90L79.80 378.28L80.30 377.61L80.80 376.91L81.30 376.19L81.80 375.46L82.30 374.73L82.80 374.00L83.30 373.30L83.80 372.62L84.30 371.98L84.80 371.36L85.30 370.78L85.80 370.22L86.30 369.69L86.80 369.19L87.30 368.72L87.80 368.29L88.30 367.88L88.80 367.49L89.30 367.14L89.80 366.82L90.30 366.53L90.80 366.26L91.30 366.03L91.80 365.82L92.30 365.63L92.80 365.47L93.30 365.34L93.80 365.23L94.30 365.14L94.80 365.07L95.30 365.03L95.80 365.00L96.30 364.99L96.80 365.00L97.30 365.03L97.80 365.08L98.30 365.15L98.80 365.25L99.30 365.37L99.80 365.52L100.30 365.70L100.80 365.91L101.30 366.15L101.80 366.43L102.30 366.75L102.80 367.10L103.30 367.50L103.80 367.94L104.30 368.42L104.80 368.94L105.30 369.49L105.80 370.08L106.30 370.69L106.80 371.33L107.30 371.99L107.80 372.67L108.30 373.36L108.80 374.07L109.30 374.79L109.80 375.51L110.30 376.24L110.80 376.96L111.30 377.69L111.80 378.40L112.30 379.11L112.80 379.79L113.30 380.46L113.80 381.11L114.30 381.73L114.80 382.32L115.30 382.87L115.80 383.38L116.30 383.86L116.80 384.28L117.30 384.66L117.80 384.99L118.30 385.28L118.80 385.53L119.30 385.74L119.80 385.93L120.30 386.08L120.80 386.21L121.30 386.31L121.80 386.40L122.30 386.46L122.80 386.52L123.30 386.57L123.80 386.61L124.30 386.65L124.80 386.68L125.30 386.73L125.80 386.77L126.30 386.81L126.80 386.85L127.30 386.88L127.80 386.89L128.30 386.89L128.80 386.87L129.30 386.82L129.80 386.74L130.30 386.63L130.80 386.49L131.30 386.31L131.80 386.11L132.30 385.88L132.80 385.62L133.30 385.34L133.80 385.05L134.30 384.73L134.80 384.40L135.30 384.06L135.80 383.70L136.30 383.34L136.80 382.97L137.30 382.60L137.80 382.23L138.30 381.88L138.80 381.54L139.30 381.21L139.80 380.91L140.30 380.64L140.80 380.39L141.30 380.16L141.80 379.95L142.30 379.74L142.80 379.54L143.30 379.34L143.80 379.13L144.30 378.91L144.80 378.67L145.30 378.41L145.80 378.12L146.30 377.79L146.80 377.42L147.30 377.01L147.80 376.57L148.30 376.08L148.80 375.56L149.30 375.02L149.80 374.44L150.30 373.85L150.80 373.23L151.30 372.60L151.80 371.96L152.30 371.31L152.80 370.66L153.30 370.00L153.80 369.35L154.30 368.70L154.80 368.06L155.30 367.43L155.80 366.83L156.30 366.24L156.80 365.68L157.30 365.15L157.80 364.66L158.30 364.20L158.80 363.78L159.30 363.41L159.80 363.09L160.30 362.81L160.80 362.59L161.30 362.43L161.80 362.32L162.30 362.28L162.80 362.30L163.30 362.37L163.80 362.48L164.30 362.64L164.80 362.83L165.30 363.05L165.80 363.30L166.30 363.55L166.80 363.82L167.30 364.09L167.80 364.36L168.30 364.62L168.80 364.86L169.30 365.08L169.80 365.27L170.30 365.42L170.80 365.52L171.30 365.58L171.80 365.58L172.30 365.51L172.80 365.38L173.30 365.16L173.80 364.87L174.30 364.51L174.80 364.09L175.30 363.61L175.80 363.09L176.30 362.52L176.80 361.92L177.30 361.30L177.80 360.66L178.30 360.00L178.80 359.34L179.30 358.68L179.80 358.01L180.30 357.35L180.80 356.70L181.30 356.05L181.80 355.41L182.30 354.78L182.80 354.17L183.30 353.57L183.80 353.00L184.30 352.44L184.80 351.91L185.30 351.40L185.80 350.92L186.30 350.46L186.80 350.03L187.30 349.62L187.80 349.22L188.30 348.85L188.80 348.49L189.30 348.15L189.80 347.82L190.30 347.51L190.80 347.21L191.30 346.91L191.80 346.63L192.30 346.35L192.80 346.07L193.30 345.80L193.80 345.53L194.30 345.26L194.80 345.00L195.30 344.74L195.80 344.48L196.30 344.22L196.80 343.97L197.30 343.72L197.80 343.48L198.30 343.23L198.80 343.00L199.30 342.76L199.80 342.53L200.30 342.31L200.80 342.09L201.30 341.87L201.80 341.66L202.30 341.45L202.80 341.25L203.30 341.06L203.80 340.88L204.30 340.72L204.80 340.56L205.30 340.42L205.80 340.30L206.30 340.20L206.80 340.11L207.30 340.05L207.80 340.01L208.30 340.00L208.80 340.01L209.30 340.05L209.80 340.12L210.30 340.22L210.80 340.36L211.30 340.53L211.80 340.73L212.30 340.97L212.80 341.25L213.30 341.58L213.80 341.94L214.30 342.35L214.80 342.81L215.30 343.31L215.80 343.85L216.30 344.44L216.80 345.06L217.30 345.70L217.80 346.37L218.30 347.05L218.80 347.75L219.30 348.45L219.80 349.15L220.30 349.84L220.80 350.52L221.30 351.19L221.80 351.83L222.30 352.44L222.80 353.02L223.30 353.58L223.80 354.11L224.30 354.60L224.80 355.06L225.30 355.49L225.80 355.88L226.30 356.24L226.80 356.56L227.30 356.85L227.80 357.10L228.30 357.33L228.80 357.52L229.30 357.70L229.80 357.86L230.30 358.00L230.80 358.13L231.30 358.24L231.80 358.36L232.30 358.47L232.80 358.58L233.30 358.70L233.80 358.82L234.30 358.96L234.80 359.09L235.30 359.24L235.80 359.39L236.30 359.54L236.80 359.69L237.30 359.85L237.80 360.01L238.30 360.17L238.80 360.33L239.30 360.48L239.80 360.64L240.30 360.79L240.80 360.94L241.30 361.08L241.80 361.20L242.30 361.31L242.80 361.40L243.30 361.47L243.80 361.52L244.30 361.53L244.80 361.52L245.30 361.46L245.80 361.38L246.30 361.26L246.80 361.12L247.30 360.96L247.80 360.77L248.30 360.58L248.80 360.37L249.30 360.16L249.80 359.95L250.30 359.74L250.80 359.54L251.30 359.34L251.80 359.17L252.30 359.01L252.80 358.86L253.30 358.74L253.80 358.63L254.30 358.54L254.80 358.46L255.30 358.40L255.80 358.35L256.30 358.31L256.80 358.29L257.30 358.28L257.80 358.29L258.30 358.30L258.80 358.33L259.30 358.36L259.80 358.41L260.30 358.47L260.80 358.53L261.30 358.61L261.80 358.70L262.30 358.79L262.80 358.90L263.30 359.01L263.80 359.13L264.30 359.26L264.80 359.40L265.30 359.55L265.80 359.70L266.30 359.87L266.80 360.03L267.30 360.21L267.80 360.39L268.30 360.58L268.80 360.78L269.30 360.98L269.80 361.19L270.30 361.41L270.80 361.63L271.30 361.86L271.80 362.10L272.30 362.34L272.80 362.59L273.30 362.84L273.80 363.10L274.30 363.37L274.80 363.64L275.30 363.92L275.80 364.20L276.30 364.49L276.80 364.78L277.30 365.07L277.80 365.36L278.30 365.65L278.80 365.93L279.30 366.21L279.80 366.47L280.30 366.72L280.80 366.95L281.30 367.17L281.80 367.36L282.30 367.54L282.80 367.69L283.30 367.81L283.80 367.91L284.30 367.97L284.80 368.00L285.30 367.99L285.80 367.95L286.30 367.88L286.80 367.78L287.30 367.66L287.80 367.52L288.30 367.37L288.80 367.21L289.30 367.04L289.80 366.88L290.30 366.71L290.80 366.55L291.30 366.41L291.80 366.28L292.30 366.16L292.80 366.06L293.30 365.98L293.80 365.91L294.30 365.84L294.80 365.79L295.30 365.73L295.80 365.68L296.30 365.63L296.80 365.58L297.30 365.52L297.80 365.45L298.30 365.37L298.80 365.28L299.30 365.18L299.80 365.05L300.30 364.91L300.80 364.75L301.30 364.58L301.80 364.38L302.30 364.18L302.80 363.96L303.30 363.74L303.80 363.51L304.30 363.28L304.80 363.04L305.30 362.81L305.80 362.57L306.30 362.34L306.80 362.12L307.30 361.91L307.80 361.71L308.30 361.52L308.80 361.34L309.30 361.19L309.80 361.05L310.30 360.93L310.80 360.84L311.30 360.76L311.80 360.71L312.30 360.67L312.80 360.64L313.30 360.63L313.80 360.63L314.30 360.63L314.80 360.65L315.30 360.67L315.80 360.69L316.30 360.71L316.80 360.74L317.30 360.76L317.80 360.78L318.30 360.80L318.80 360.81L319.30 360.82L319.80 360.82L320.30 360.83L320.80 360.84L321.30 360.85L321.80 360.88L322.30 360.93L322.80 360.98L323.30 361.06L323.80 361.16L324.30 361.28L324.80 361.43L325.30 361.61L325.80 361.82L326.30 362.06L326.80 362.31L327.30 362.58L327.80 362.86L328.30 363.15L328.80 363.45L329.30 363.74L329.80 364.03L330.30 364.31L330.80 364.57L331.30 364.82L331.80 365.04L332.30 365.24L332.80 365.42L333.30 365.58L333.80 365.72L334.30 365.85L334.80 365.96L335.30 366.07L335.80 366.16L336.30 366.25L336.80 366.34L337.30 366.43L337.80 366.52L338.30 366.61L338.80 366.71L339.30 366.82L339.80 366.95L340.30 367.08L340.80 367.24L341.30 367.42L341.80 367.63L342.30 367.87L342.80 368.16L343.30 368.48L343.80 368.86L344.30 369.29L344.80 369.79L345.30 370.34L345.80 370.96L346.30 371.63L346.80 372.35L347.30 373.11L347.80 373.89L348.30 374.69L348.80 375.51L349.30 376.32L349.80 377.13L350.30 377.93L350.80 378.70L351.30 379.44L351.80 380.14L352.30 380.79L352.80 381.39L353.30 381.95L353.80 382.45L354.30 382.91L354.80 383.31L355.30 383.66L355.80 383.95L356.30 384.20L356.80 384.39L357.30 384.52L357.80 384.59L358.30 384.61L358.80 384.57L359.30 384.48L359.80 384.32L360.30 384.11L360.80 383.85L361.30 383.54L361.80 383.19L362.30 382.80L362.80 382.37L363.30 381.92L363.80 381.43L364.30 380.93L364.80 380.40L365.30 379.86L365.80 379.31L366.30 378.75L366.80 378.19L367.30 377.63L367.80 377.07L368.30 376.52L368.80 375.98L369.30 375.45L369.80 374.94L370.30 374.45L370.80 373.98L371.30 373.54L371.80 373.13L372.30 372.75L372.80 372.41L373.30 372.11L373.80 371.85L374.30 371.63L374.80 371.47L375.30 371.36L375.80 371.30L376.30 371.30L376.80 371.36L377.30 371.46L377.80 371.62L378.30 371.81L378.80 372.04L379.30 372.30L379.80 372.59L380.30 372.90L380.80 373.23L381.30 373.57L381.80 373.93L382.30 374.29L382.80 374.64L383.30 375.00L383.80 375.35L384.30 375.69L384.80 376.02L385.30 376.34L385.80 376.65L386.30 376.94L386.80 377.23L387.30 377.51L387.80 377.78L388.30 378.03L388.80 378.27L389.30 378.50L389.80 378.72L390.30 378.92L390.80 379.11L391.30 379.29L391.80 379.46L392.30 379.62L392.80 379.77L393.30 379.91L393.80 380.05L394.30 380.19L394.80 380.32L395.30 380.46L395.80 380.59L396.30 380.72L396.80 380.86L397.30 381.00L397.80 381.15L398.30 381.30L398.80 381.46L399.30 381.63L399.80 381.79L400.30 381.96L400.80 382.11L401.30 382.27L401.80 382.40L402.30 382.53L402.80 382.63L403.30 382.72L403.80 382.78L404.30 382.81L404.80 382.81L405.30 382.78L405.80 382.71L406.30 382.61L406.80 382.48L407.30 382.32L407.80 382.15L408.30 381.95L408.80 381.74L409.30 381.51L409.80 381.27L410.30 381.02L410.80 380.76L411.30 380.51L411.80 380.25L412.30 379.99L412.80 379.74L413.30 379.50L413.80 379.27L414.30 379.05L414.80 378.83L415.30 378.63L415.80 378.42L416.30 378.23L416.80 378.03L417.30 377.83L417.80 377.64L418.30 377.44L418.80 377.24L419.30 377.03L419.80 376.81L420.30 376.59L420.80 376.36L421.30 376.12L421.80 375.86L422.30 375.59L422.80 375.30L423.30 375.00L423.80 374.68L424.30 374.34L424.80 373.99L425.30 373.62L425.80 373.24L426.30 372.85L426.80 372.44L427.30 372.03L427.80 371.62L428.30 371.19L428.80 370.77L429.30 370.34L429.80 369.91L430.30 369.48L430.80 369.06L431.30 368.63L431.80 368.22L432.30 367.81L432.80 367.40L433.30 367.00L433.80 366.61L434.30 366.23L434.80 365.85L435.30 365.48L435.80 365.11L436.30 364.75L436.80 364.40L437.30 364.06L437.80 363.72L438.30 363.39L438.80 363.06L439.30 362.75L439.80 362.44L440.30 362.14L440.80 361.85L441.30 361.59L441.80 361.35L442.30 361.15L442.80 360.99L443.30 360.87L443.80 360.81L444.30 360.80L444.80 360.86L445.30 360.98L445.80 361.15L446.30 361.37L446.80 361.64L447.30 361.96L447.80 362.31L448.30 362.69L448.80 363.11L449.30 363.55L449.80 364.01L450.30 364.49L450.80 364.99L451.30 365.49L451.80 366.01L452.30 366.52L452.80 367.04L453.30 367.56L453.80 368.08L454.30 368.58L454.80 369.08L455.30 369.56L455.80 370.02L456.30 370.46L456.80 370.88L457.30 371.27L457.80 371.64L458.30 371.99L458.80 372.33L459.30 372.64L459.80 372.95L460.30 373.25L460.80 373.54L461.30 373.83L461.80 374.11L462.30 374.40L462.80 374.70L463.30 375.00L463.80 375.31L464.30 375.63L464.80 375.95L465.30 376.26L465.80 376.57L466.30 376.85L466.80 377.12L467.30 377.36L467.80 377.57L468.30 377.75L468.80 377.88L469.30 377.97L469.80 378.00L470.30 377.98L470.80 377.90L471.30 377.77L471.80 377.60L472.30 377.39L472.80 377.14L473.30 376.87L473.80 376.57L474.30 376.26L474.80 375.93L475.30 375.60L475.80 375.27L476.30 374.94L476.80 374.63L477.30 374.32L477.80 374.04L478.30 373.78L478.80 373.55L479.30 373.35L479.80 373.19L480.30 373.07L480.80 373.00L481.30 372.98L481.80 373.01L482.30 373.08L482.80 373.19L483.30 373.32L483.80 373.47L484.30 373.65L484.80 373.83L485.30 374.02L485.80 374.20L486.30 374.38L486.80 374.55L487.30 374.70L487.80 374.84L488.30 374.97L488.80 375.08L489.30 375.18L489.80 375.25L490.30 375.30L490.80 375.32L491.30 375.32L491.80 375.29L492.30 375.24L492.80 375.15L493.30 375.05L493.80 374.92L494.30 374.78L494.80 374.62L495.30 374.44L495.80 374.26L496.30 374.07L496.80 373.88L497.30 373.69L497.80 373.49L498.30 373.30L498.80 373.12L499.30 372.94L499.80 372.77L500.30 372.61L500.80 372.46L501.30 372.32L501.80 372.19L502.30 372.07L502.80 371.97L503.30 371.88L503.80 371.81L504.30 371.75L504.80 371.71L505.30 371.69L505.80 371.68L506.30 371.69L506.80 371.71L507.30 371.73L507.80 371.76L508.30 371.78L508.80 371.81L509.30 371.82L509.80 371.83L510.30 371.82L510.80 371.80L511.30 371.75L511.80 371.68L512.30 371.59L512.80 371.47L513.30 371.33L513.80 371.16L514.30 370.96L514.80 370.74L515.30 370.50L515.80 370.23L516.30 369.93L516.80 369.61L517.30 369.27L517.80 368.90L518.30 368.51L518.80 368.09L519.30 367.65L519.80 367.19L520.30 366.71L520.80 366.20L521.30 365.67L521.80 365.13L522.30 364.58L522.80 364.03L523.30 363.47L523.80 362.91L524.30 362.35L524.80 361.81L525.30 361.27L525.80 360.75L526.30 360.25L526.80 359.77L527.30 359.32L527.80 358.89L528.30 358.50L528.80 358.14L529.30 357.83L529.80 357.54L530.30 357.30L530.80 357.09L531.30 356.92L531.80 356.79L532.30 356.69L532.80 356.63L533.30 356.61L533.80 356.62L534.30 356.67L534.80 356.76L535.30 356.88L535.80 357.04L536.30 357.25L536.80 357.49L537.30 357.77L537.80 358.09L538.30 358.45L538.80 358.86L539.30 359.30L539.80 359.79L540.30 360.32L540.80 360.90L541.30 361.49L541.80 362.11L542.30 362.73L542.80 363.35L543.30 363.96L543.80 364.55L544.30 365.10L544.80 365.61L545.30 366.07L545.80 366.47L546.30 366.81L546.80 367.11L547.30 367.35L547.80 367.54L548.30 367.68L548.80 367.77L549.30 367.81L549.80 367.81L550.30 367.77L550.80 367.68L551.30 367.56L551.80 367.39L552.30 367.19L552.80 366.96L553.30 366.69L553.80 366.40L554.30 366.07L554.80 365.72L555.30 365.35L555.80 364.96L556.30 364.54L556.80 364.11L557.30 363.67L557.80 363.22L558.30 362.76L558.80 362.32L559.30 361.89L559.80 361.48L560.30 361.10L560.80 360.75L561.30 360.45L561.80 360.19L562.30 360.00L562.80 359.86L563.30 359.80L563.80 359.81L564.30 359.89L564.80 360.02L565.30 360.18L565.80 360.37L566.30 360.57L566.80 360.77L567.30 360.95L567.80 361.10L568.30 361.21L568.80 361.25L569.30 361.23L569.80 361.13L570.30 360.94L570.80 360.68L571.30 360.36L571.80 360.00L572.30 359.60L572.80 359.18L573.30 358.75L573.80 358.33L574.30 357.92L574.80 357.53L575.30 357.17L575.80 356.82L576.30 356.50L576.80 356.18L577.30 355.88L577.80 355.59L578.30 355.30L578.80 355.02L579.20 354.80" fill="none" stroke="#1a1a1a" stroke-width="1.8" stroke-linejoin="round" stroke-linecap="round"/>
<path d="M45.80 422.80L46.30 423.68L46.80 424.55L47.30 425.42L47.80 426.26L48.30 427.08L48.80 427.87L49.30 428.62L49.80 429.33L50.30 429.99L50.80 430.60L51.30 431.16L51.80 431.68L52.30 432.15L52.80 432.58L53.30 432.97L53.80 433.33L54.30 433.64L54.80 433.92L55.30 434.17L55.80 434.38L56.30 434.57L56.80 434.73L57.30 434.86L57.80 434.98L58.30 435.07L58.80 435.14L59.30 435.19L59.80 435.23L60.30 435.26L60.80 435.28L61.30 435.29L61.80 435.29L62.30 435.29L62.80 435.29L63.30 435.28L63.80 435.28L64.30 435.28L64.80 435.29L65.30 435.31L65.80 435.34L66.30 435.37L66.80 435.42L67.30 435.47L67.80 435.53L68.30 435.60L68.80 435.68L69.30 435.77L69.80 435.87L70.30 435.97L70.80 436.08L71.30 436.20L71.80 436.33L72.30 436.46L72.80 436.59L73.30 436.73L73.80 436.85L74.30 436.97L74.80 437.07L75.30 437.16L75.80 437.22L76.30 437.25L76.80 437.26L77.30 437.22L77.80 437.15L78.30 437.04L78.80 436.89L79.30 436.70L79.80 436.48L80.30 436.23L80.80 435.95L81.30 435.65L81.80 435.32L82.30 434.96L82.80 434.59L83.30 434.20L83.80 433.79L84.30 433.38L84.80 432.95L85.30 432.52L85.80 432.08L86.30 431.65L86.80 431.22L87.30 430.80L87.80 430.39L88.30 429.99L88.80 429.61L89.30 429.26L89.80 428.92L90.30 428.62L90.80 428.35L91.30 428.10L91.80 427.88L92.30 427.69L92.80 427.52L93.30 427.38L93.80 427.26L94.30 427.16L94.80 427.09L95.30 427.04L95.80 427.01L96.30 427.00L96.80 427.00L97.30 427.03L97.80 427.07L98.30 427.13L98.80 427.21L99.30 427.30L99.80 427.40L100.30 427.52L100.80 427.66L101.30 427.80L101.80 427.96L102.30 428.13L102.80 428.31L103.30 428.50L103.80 428.69L104.30 428.90L104.80 429.11L105.30 429.33L105.80 429.56L106.30 429.80L106.80 430.04L107.30 430.29L107.80 430.55L108.30 430.82L108.80 431.10L109.30 431.40L109.80 431.70L110.30 432.02L110.80 432.35L111.30 432.69L111.80 433.04L112.30 433.41L112.80 433.80L113.30 434.20L113.80 434.62L114.30 435.05L114.80 435.49L115.30 435.94L115.80 436.40L116.30 436.87L116.80 437.34L117.30 437.81L117.80 438.28L118.30 438.75L118.80 439.21L119.30 439.67L119.80 440.11L120.30 440.55L120.80 440.98L121.30 441.38L121.80 441.78L122.30 442.15L122.80 442.51L123.30 442.84L123.80 443.16L124.30 443.47L124.80 443.75L125.30 444.02L125.80 444.27L126.30 444.51L126.80 444.73L127.30 444.93L127.80 445.12L128.30 445.30L128.80 445.46L129.30 445.61L129.80 445.74L130.30 445.86L130.80 445.96L131.30 446.05L131.80 446.13L132.30 446.19L132.80 446.24L133.30 446.28L133.80 446.30L134.30 446.31L134.80 446.31L135.30 446.29L135.80 446.26L136.30 446.21L136.80 446.16L137.30 446.08L137.80 445.99L138.30 445.89L138.80 445.76L139.30 445.62L139.80 445.47L140.30 445.29L140.80 445.09L141.30 444.88L141.80 444.63L142.30 444.37L142.80 444.08L143.30 443.76L143.80 443.42L144.30 443.04L144.80 442.64L145.30 442.20L145.80 441.73L146.30 441.23L146.80 440.69L147.30 440.11L147.80 439.51L148.30 438.87L148.80 438.21L149.30 437.52L149.80 436.82L150.30 436.10L150.80 435.38L151.30 434.64L151.80 433.90L152.30 433.16L152.80 432.43L153.30 431.70L153.80 430.98L154.30 430.27L154.80 429.56L155.30 428.85L155.80 428.15L156.30 427.43L156.80 426.71L157.30 425.98L157.80 425.23L158.30 424.47L158.80 423.68L159.30 422.88L159.80 422.04L160.30 421.18L160.80 420.29L161.30 419.37L161.80 418.44L162.30 417.50L162.80 416.56L163.30 415.62L163.80 414.68L164.30 413.76L164.80 412.86L165.30 411.98L165.80 411.12L166.30 410.30L166.80 409.50L167.30 408.73L167.80 407.99L168.30 407.27L168.80 406.59L169.30 405.94L169.80 405.32L170.30 404.73L170.80 404.16L171.30 403.64L171.80 403.14L172.30 402.68L172.80 402.25L173.30 401.85L173.80 401.48L174.30 401.13L174.80 400.81L175.30 400.52L175.80 400.24L176.30 399.97L176.80 399.73L177.30 399.49L177.80 399.26L178.30 399.04L178.80 398.82L179.30 398.61L179.80 398.39L180.30 398.17L180.80 397.94L181.30 397.71L181.80 397.48L182.30 397.24L182.80 397.00L183.30 396.75L183.80 396.50L184.30 396.25L184.80 395.99L185.30 395.73L185.80 395.47L186.30 395.21L186.80 394.95L187.30 394.68L187.80 394.41L188.30 394.15L188.80 393.88L189.30 393.61L189.80 393.34L190.30 393.08L190.80 392.82L191.30 392.56L191.80 392.30L192.30 392.05L192.80 391.81L193.30 391.57L193.80 391.33L194.30 391.11L194.80 390.89L195.30 390.67L195.80 390.47L196.30 390.27L196.80 390.09L197.30 389.91L197.80 389.74L198.30 389.58L198.80 389.43L199.30 389.30L199.80 389.17L200.30 389.05L200.80 388.94L201.30 388.85L201.80 388.76L202.30 388.69L202.80 388.63L203.30 388.58L203.80 388.55L204.30 388.53L204.80 388.52L205.30 388.52L205.80 388.54L206.30 388.57L206.80 388.61L207.30 388.67L207.80 388.75L208.30 388.83L208.80 388.94L209.30 389.05L209.80 389.18L210.30 389.33L210.80 389.49L211.30 389.66L211.80 389.84L212.30 390.04L212.80 390.24L213.30 390.46L213.80 390.70L214.30 390.94L214.80 391.19L215.30 391.46L215.80 391.74L216.30 392.03L216.80 392.33L217.30 392.64L217.80 392.97L218.30 393.31L218.80 393.66L219.30 394.03L219.80 394.41L220.30 394.80L220.80 395.21L221.30 395.64L221.80 396.08L222.30 396.54L222.80 397.01L223.30 397.50L223.80 398.01L224.30 398.53L224.80 399.07L225.30 399.61L225.80 400.17L226.30 400.73L226.80 401.30L227.30 401.87L227.80 402.44L228.30 403.01L228.80 403.58L229.30 404.14L229.80 404.70L230.30 405.24L230.80 405.77L231.30 406.29L231.80 406.80L232.30 407.29L232.80 407.76L233.30 408.22L233.80 408.66L234.30 409.09L234.80 409.50L235.30 409.90L235.80 410.29L236.30 410.67L236.80 411.04L237.30 411.40L237.80 411.75L238.30 412.09L238.80 412.42L239.30 412.75L239.80 413.07L240.30 413.39L240.80 413.70L241.30 414.00L241.80 414.29L242.30 414.57L242.80 414.84L243.30 415.09L243.80 415.32L244.30 415.53L244.80 415.72L245.30 415.88L245.80 416.02L246.30 416.13L246.80 416.21L247.30 416.26L247.80 416.29L248.30 416.28L248.80 416.25L249.30 416.20L249.80 416.14L250.30 416.06L250.80 415.96L251.30 415.85L251.80 415.74L252.30 415.62L252.80 415.50L253.30 415.37L253.80 415.25L254.30 415.14L254.80 415.03L255.30 414.93L255.80 414.85L256.30 414.78L256.80 414.72L257.30 414.69L257.80 414.68L258.30 414.70L258.80 414.74L259.30 414.81L259.80 414.91L260.30 415.03L260.80 415.17L261.30 415.32L261.80 415.50L262.30 415.69L262.80 415.90L263.30 416.12L263.80 416.36L264.30 416.60L264.80 416.85L265.30 417.10L265.80 417.36L266.30 417.63L266.80 417.89L267.30 418.16L267.80 418.42L268.30 418.69L268.80 418.95L269.30 419.21L269.80 419.47L270.30 419.72L270.80 419.98L271.30 420.23L271.80 420.48L272.30 420.73L272.80 420.98L273.30 421.22L273.80 421.46L274.30 421.70L274.80 421.93L275.30 422.17L275.80 422.40L276.30 422.62L276.80 422.84L277.30 423.06L277.80 423.28L278.30 423.49L278.80 423.70L279.30 423.90L279.80 424.10L280.30 424.29L280.80 424.48L281.30 424.66L281.80 424.83L282.30 425.01L282.80 425.17L283.30 425.33L283.80 425.48L284.30 425.62L284.80 425.76L285.30 425.89L285.80 426.01L286.30 426.13L286.80 426.24L287.30 426.34L287.80 426.43L288.30 426.51L288.80 426.58L289.30 426.65L289.80 426.70L290.30 426.74L290.80 426.78L291.30 426.80L291.80 426.82L292.30 426.82L292.80 426.82L293.30 426.80L293.80 426.77L294.30 426.73L294.80 426.68L295.30 426.62L295.80 426.55L296.30 426.47L296.80 426.38L297.30 426.28L297.80 426.18L298.30 426.06L298.80 425.94L299.30 425.80L299.80 425.66L300.30 425.52L300.80 425.36L301.30 425.20L301.80 425.04L302.30 424.86L302.80 424.68L303.30 424.50L303.80 424.31L304.30 424.12L304.80 423.92L305.30 423.73L305.80 423.53L306.30 423.34L306.80 423.15L307.30 422.96L307.80 422.79L308.30 422.62L308.80 422.46L309.30 422.31L309.80 422.17L310.30 422.05L310.80 421.94L311.30 421.85L311.80 421.78L312.30 421.72L312.80 421.69L313.30 421.68L313.80 421.70L314.30 421.74L314.80 421.81L315.30 421.90L315.80 422.01L316.30 422.15L316.80 422.31L317.30 422.50L317.80 422.70L318.30 422.93L318.80 423.18L319.30 423.45L319.80 423.73L320.30 424.04L320.80 424.37L321.30 424.71L321.80 425.07L322.30 425.45L322.80 425.85L323.30 426.26L323.80 426.68L324.30 427.11L324.80 427.56L325.30 428.01L325.80 428.48L326.30 428.94L326.80 429.42L327.30 429.90L327.80 430.38L328.30 430.86L328.80 431.35L329.30 431.83L329.80 432.31L330.30 432.79L330.80 433.26L331.30 433.73L331.80 434.19L332.30 434.65L332.80 435.10L333.30 435.54L333.80 435.98L334.30 436.41L334.80 436.83L335.30 437.25L335.80 437.66L336.30 438.05L336.80 438.44L337.30 438.82L337.80 439.19L338.30 439.55L338.80 439.90L339.30 440.24L339.80 440.56L340.30 440.88L340.80 441.18L341.30 441.47L341.80 441.76L342.30 442.03L342.80 442.30L343.30 442.56L343.80 442.81L344.30 443.06L344.80 443.31L345.30 443.54L345.80 443.78L346.30 444.01L346.80 444.25L347.30 444.48L347.80 444.70L348.30 444.92L348.80 445.14L349.30 445.34L349.80 445.53L350.30 445.71L350.80 445.86L351.30 446.01L351.80 446.13L352.30 446.22L352.80 446.29L353.30 446.34L353.80 446.35L354.30 446.34L354.80 446.29L355.30 446.20L355.80 446.09L356.30 445.94L356.80 445.77L357.30 445.57L357.80 445.36L358.30 445.13L358.80 444.88L359.30 444.62L359.80 444.36L360.30 444.08L360.80 443.81L361.30 443.54L361.80 443.26L362.30 443.00L362.80 442.74L363.30 442.50L363.80 442.27L364.30 442.05L364.80 441.85L365.30 441.66L365.80 441.47L366.30 441.30L366.80 441.13L367.30 440.96L367.80 440.80L368.30 440.64L368.80 440.48L369.30 440.32L369.80 440.16L370.30 440.00L370.80 439.83L371.30 439.65L371.80 439.47L372.30 439.28L372.80 439.08L373.30 438.86L373.80 438.64L374.30 438.42L374.80 438.19L375.30 437.95L375.80 437.72L376.30 437.48L376.80 437.25L377.30 437.02L377.80 436.80L378.30 436.59L378.80 436.39L379.30 436.20L379.80 436.02L380.30 435.86L380.80 435.71L381.30 435.59L381.80 435.48L382.30 435.40L382.80 435.33L383.30 435.29L383.80 435.26L384.30 435.24L384.80 435.24L385.30 435.24L385.80 435.26L386.30 435.28L386.80 435.31L387.30 435.33L387.80 435.37L388.30 435.40L388.80 435.44L389.30 435.48L389.80 435.52L390.30 435.56L390.80 435.61L391.30 435.66L391.80 435.71L392.30 435.76L392.80 435.82L393.30 435.88L393.80 435.93L394.30 435.99L394.80 436.05L395.30 436.12L395.80 436.18L396.30 436.25L396.80 436.31L397.30 436.38L397.80 436.45L398.30 436.52L398.80 436.59L399.30 436.67L399.80 436.75L400.30 436.83L400.80 436.91L401.30 437.00L401.80 437.09L402.30 437.19L402.80 437.29L403.30 437.40L403.80 437.51L404.30 437.63L404.80 437.76L405.30 437.89L405.80 438.03L406.30 438.18L406.80 438.33L407.30 438.49L407.80 438.65L408.30 438.81L408.80 438.96L409.30 439.09L409.80 439.20L410.30 439.29L410.80 439.34L411.30 439.35L411.80 439.32L412.30 439.25L412.80 439.11L413.30 438.93L413.80 438.69L414.30 438.41L414.80 438.08L415.30 437.72L415.80 437.33L416.30 436.90L416.80 436.45L417.30 435.98L417.80 435.50L418.30 435.00L418.80 434.49L419.30 433.98L419.80 433.46L420.30 432.94L420.80 432.42L421.30 431.90L421.80 431.39L422.30 430.88L422.80 430.37L423.30 429.88L423.80 429.40L424.30 428.93L424.80 428.48L425.30 428.04L425.80 427.62L426.30 427.21L426.80 426.82L427.30 426.44L427.80 426.07L428.30 425.71L428.80 425.35L429.30 425.00L429.80 424.65L430.30 424.29L430.80 423.94L431.30 423.59L431.80 423.23L432.30 422.86L432.80 422.49L433.30 422.12L433.80 421.75L434.30 421.38L434.80 421.01L435.30 420.65L435.80 420.30L436.30 419.95L436.80 419.62L437.30 419.30L437.80 418.99L438.30 418.70L438.80 418.43L439.30 418.18L439.80 417.96L440.30 417.75L440.80 417.57L441.30 417.42L441.80 417.29L442.30 417.18L442.80 417.09L443.30 417.03L443.80 416.99L444.30 416.97L444.80 416.97L445.30 416.99L445.80 417.04L446.30 417.11L446.80 417.20L447.30 417.32L447.80 417.48L448.30 417.66L448.80 417.89L449.30 418.15L449.80 418.45L450.30 418.79L450.80 419.18L451.30 419.61L451.80 420.10L452.30 420.64L452.80 421.22L453.30 421.85L453.80 422.51L454.30 423.20L454.80 423.92L455.30 424.66L455.80 425.42L456.30 426.18L456.80 426.95L457.30 427.73L457.80 428.50L458.30 429.26L458.80 430.00L459.30 430.73L459.80 431.43L460.30 432.10L460.80 432.74L461.30 433.35L461.80 433.93L462.30 434.49L462.80 435.01L463.30 435.51L463.80 435.99L464.30 436.44L464.80 436.87L465.30 437.28L465.80 437.66L466.30 438.02L466.80 438.37L467.30 438.69L467.80 439.00L468.30 439.29L468.80 439.55L469.30 439.80L469.80 440.03L470.30 440.24L470.80 440.43L471.30 440.60L471.80 440.75L472.30 440.88L472.80 440.98L473.30 441.07L473.80 441.13L474.30 441.18L474.80 441.20L475.30 441.20L475.80 441.18L476.30 441.13L476.80 441.07L477.30 440.98L477.80 440.87L478.30 440.74L478.80 440.59L479.30 440.42L479.80 440.23L480.30 440.01L480.80 439.78L481.30 439.52L481.80 439.25L482.30 438.95L482.80 438.64L483.30 438.30L483.80 437.94L484.30 437.57L484.80 437.18L485.30 436.77L485.80 436.34L486.30 435.91L486.80 435.46L487.30 435.00L487.80 434.53L488.30 434.06L488.80 433.58L489.30 433.09L489.80 432.60L490.30 432.11L490.80 431.62L491.30 431.13L491.80 430.64L492.30 430.15L492.80 429.67L493.30 429.20L493.80 428.73L494.30 428.28L494.80 427.83L495.30 427.39L495.80 426.96L496.30 426.53L496.80 426.12L497.30 425.72L497.80 425.32L498.30 424.94L498.80 424.56L499.30 424.20L499.80 423.85L500.30 423.51L500.80 423.18L501.30 422.86L501.80 422.55L502.30 422.25L502.80 421.97L503.30 421.70L503.80 421.44L504.30 421.20L504.80 420.96L505.30 420.74L505.80 420.52L506.30 420.32L506.80 420.13L507.30 419.95L507.80 419.77L508.30 419.61L508.80 419.45L509.30 419.30L509.80 419.15L510.30 419.01L510.80 418.88L511.30 418.76L511.80 418.64L512.30 418.52L512.80 418.41L513.30 418.30L513.80 418.19L514.30 418.09L514.80 418.00L515.30 417.91L515.80 417.82L516.30 417.75L516.80 417.68L517.30 417.62L517.80 417.57L518.30 417.53L518.80 417.51L519.30 417.50L519.80 417.50L520.30 417.51L520.80 417.54L521.30 417.58L521.80 417.64L522.30 417.70L522.80 417.78L523.30 417.87L523.80 417.97L524.30 418.08L524.80 418.20L525.30 418.32L525.80 418.45L526.30 418.59L526.80 418.73L527.30 418.88L527.80 419.03L528.30 419.18L528.80 419.33L529.30 419.49L529.80 419.64L530.30 419.79L530.80 419.95L531.30 420.09L531.80 420.24L532.30 420.38L532.80 420.51L533.30 420.64L533.80 420.75L534.30 420.86L534.80 420.96L535.30 421.05L535.80 421.13L536.30 421.20L536.80 421.26L537.30 421.32L537.80 421.37L538.30 421.42L538.80 421.46L539.30 421.51L539.80 421.55L540.30 421.60L540.80 421.65L541.30 421.70L541.80 421.77L542.30 421.83L542.80 421.91L543.30 422.00L543.80 422.10L544.30 422.21L544.80 422.33L545.30 422.46L545.80 422.60L546.30 422.74L546.80 422.90L547.30 423.06L547.80 423.22L548.30 423.39L548.80 423.57L549.30 423.75L549.80 423.93L550.30 424.11L550.80 424.30L551.30 424.48L551.80 424.67L552.30 424.85L552.80 425.03L553.30 425.21L553.80 425.39L554.30 425.56L554.80 425.73L555.30 425.90L555.80 426.06L556.30 426.21L556.80 426.36L557.30 426.51L557.80 426.65L558.30 426.79L558.80 426.93L559.30 427.06L559.80 427.20L560.30 427.33L560.80 427.46L561.30 427.60L561.80 427.73L562.30 427.87L562.80 428.01L563.30 428.15L563.80 428.29L564.30 428.44L564.80 428.59L565.30 428.74L565.80 428.90L566.30 429.06L566.80 429.23L567.30 429.41L567.80 429.59L568.30 429.78L568.80 429.97L569.30 430.17L569.80 430.38L570.30 430.59L570.80 430.80L571.30 431.01L571.80 431.24L572.30 431.46L572.80 431.69L573.30 431.92L573.80 432.15L574.30 432.39L574.80 432.63L575.30 432.87L575.80 433.11L576.30 433.36L576.80 433.60L577.30 433.85L577.80 434.10L578.30 434.35L578.80 434.60L579.20 434.80" fill="none" stroke="#1a1a1a" stroke-width="1.8" stroke-linejoin="round" stroke-linecap="round"/>
<path d="M45.80 470.50L46.30 470.66L46.80 470.82L47.30 470.97L47.80 471.12L48.30 471.27L48.80 471.41L49.30 471.54L49.80 471.66L50.30 471.76L50.80 471.86L51.30 471.94L51.80 472.02L52.30 472.08L52.80 472.13L53.30 472.17L53.80 472.20L54.30 472.22L54.80 472.24L55.30 472.24L55.80 472.23L56.30 472.22L56.80 472.19L57.30 472.16L57.80 472.13L58.30 472.10L58.80 472.07L59.30 472.06L59.80 472.06L60.30 472.08L60.80 472.12L61.30 472.19L61.80 472.29L62.30 472.43L62.80 472.61L63.30 472.83L63.80 473.09L64.30 473.39L64.80 473.72L65.30 474.08L65.80 474.46L66.30 474.87L66.80 475.30L67.30 475.75L67.80 476.22L68.30 476.70L68.80 477.19L69.30 477.69L69.80 478.19L70.30 478.70L70.80 479.21L71.30 479.72L71.80 480.23L72.30 480.73L72.80 481.23L73.30 481.72L73.80 482.20L74.30 482.67L74.80 483.12L75.30 483.56L75.80 483.98L76.30 484.38L76.80 484.76L77.30 485.13L77.80 485.47L78.30 485.79L78.80 486.09L79.30 486.37L79.80 486.62L80.30 486.86L80.80 487.07L81.30 487.25L81.80 487.41L82.30 487.54L82.80 487.65L83.30 487.73L83.80 487.78L84.30 487.80L84.80 487.80L85.30 487.77L85.80 487.71L86.30 487.63L86.80 487.53L87.30 487.40L87.80 487.26L88.30 487.11L88.80 486.93L89.30 486.75L89.80 486.55L90.30 486.35L90.80 486.13L91.30 485.91L91.80 485.69L92.30 485.46L92.80 485.23L93.30 485.00L93.80 484.77L94.30 484.55L94.80 484.32L95.30 484.10L95.80 483.88L96.30 483.66L96.80 483.43L97.30 483.21L97.80 482.98L98.30 482.76L98.80 482.53L99.30 482.30L99.80 482.06L100.30 481.82L100.80 481.58L101.30 481.34L101.80 481.09L102.30 480.83L102.80 480.57L103.30 480.30L103.80 480.03L104.30 479.75L104.80 479.46L105.30 479.17L105.80 478.87L106.30 478.56L106.80 478.24L107.30 477.91L107.80 477.57L108.30 477.22L108.80 476.86L109.30 476.50L109.80 476.12L110.30 475.74L110.80 475.34L111.30 474.94L111.80 474.53L112.30 474.10L112.80 473.67L113.30 473.23L113.80 472.78L114.30 472.33L114.80 471.86L115.30 471.38L115.80 470.90L116.30 470.40L116.80 469.90L117.30 469.39L117.80 468.87L118.30 468.34L118.80 467.81L119.30 467.28L119.80 466.74L120.30 466.21L120.80 465.68L121.30 465.15L121.80 464.62L122.30 464.10L122.80 463.59L123.30 463.08L123.80 462.59L124.30 462.11L124.80 461.64L125.30 461.18L125.80 460.74L126.30 460.32L126.80 459.92L127.30 459.54L127.80 459.18L128.30 458.83L128.80 458.50L129.30 458.19L129.80 457.90L130.30 457.62L130.80 457.35L131.30 457.10L131.80 456.86L132.30 456.63L132.80 456.41L133.30 456.20L133.80 456.00L134.30 455.81L134.80 455.63L135.30 455.46L135.80 455.29L136.30 455.13L136.80 454.98L137.30 454.84L137.80 454.71L138.30 454.58L138.80 454.46L139.30 454.35L139.80 454.24L140.30 454.14L140.80 454.05L141.30 453.96L141.80 453.87L142.30 453.79L142.80 453.72L143.30 453.65L143.80 453.59L144.30 453.53L144.80 453.48L145.30 453.42L145.80 453.38L146.30 453.33L146.80 453.29L147.30 453.25L147.80 453.22L148.30 453.19L148.80 453.16L149.30 453.13L149.80 453.11L150.30 453.09L150.80 453.07L151.30 453.05L151.80 453.04L152.30 453.02L152.80 453.01L153.30 453.01L153.80 453.00L154.30 453.00L154.80 452.99L155.30 452.99L155.80 452.99L156.30 453.00L156.80 453.00L157.30 453.01L157.80 453.01L158.30 453.02L158.80 453.03L159.30 453.04L159.80 453.05L160.30 453.06L160.80 453.08L161.30 453.09L161.80 453.11L162.30 453.12L162.80 453.14L163.30 453.16L163.80 453.18L164.30 453.20L164.80 453.22L165.30 453.24L165.80 453.26L166.30 453.28L166.80 453.30L167.30 453.33L167.80 453.35L168.30 453.38L168.80 453.41L169.30 453.44L169.80 453.47L170.30 453.51L170.80 453.55L171.30 453.60L171.80 453.66L172.30 453.72L172.80 453.79L173.30 453.87L173.80 453.95L174.30 454.05L174.80 454.16L175.30 454.27L175.80 454.40L176.30 454.53L176.80 454.68L177.30 454.84L177.80 455.01L178.30 455.18L178.80 455.37L179.30 455.57L179.80 455.78L180.30 456.00L180.80 456.22L181.30 456.46L181.80 456.71L182.30 456.96L182.80 457.23L183.30 457.50L183.80 457.78L184.30 458.07L184.80 458.37L185.30 458.68L185.80 459.00L186.30 459.32L186.80 459.66L187.30 460.00L187.80 460.35L188.30 460.70L188.80 461.06L189.30 461.43L189.80 461.81L190.30 462.19L190.80 462.58L191.30 462.98L191.80 463.38L192.30 463.79L192.80 464.20L193.30 464.62L193.80 465.04L194.30 465.46L194.80 465.89L195.30 466.32L195.80 466.75L196.30 467.18L196.80 467.61L197.30 468.04L197.80 468.47L198.30 468.90L198.80 469.32L199.30 469.74L199.80 470.16L200.30 470.57L200.80 470.98L201.30 471.38L201.80 471.78L202.30 472.17L202.80 472.55L203.30 472.92L203.80 473.29L204.30 473.65L204.80 474.01L205.30 474.36L205.80 474.70L206.30 475.04L206.80 475.37L207.30 475.69L207.80 476.01L208.30 476.32L208.80 476.63L209.30 476.93L209.80 477.22L210.30 477.52L210.80 477.80L211.30 478.08L211.80 478.35L212.30 478.62L212.80 478.89L213.30 479.15L213.80 479.41L214.30 479.66L214.80 479.92L215.30 480.17L215.80 480.41L216.30 480.66L216.80 480.91L217.30 481.15L217.80 481.40L218.30 481.65L218.80 481.90L219.30 482.15L219.80 482.40L220.30 482.65L220.80 482.91L221.30 483.17L221.80 483.43L222.30 483.69L222.80 483.96L223.30 484.22L223.80 484.48L224.30 484.74L224.80 485.00L225.30 485.26L225.80 485.51L226.30 485.77L226.80 486.02L227.30 486.26L227.80 486.50L228.30 486.74L228.80 486.97L229.30 487.20L229.80 487.41L230.30 487.63L230.80 487.83L231.30 488.03L231.80 488.22L232.30 488.41L232.80 488.59L233.30 488.77L233.80 488.94L234.30 489.11L234.80 489.27L235.30 489.43L235.80 489.59L236.30 489.74L236.80 489.89L237.30 490.04L237.80 490.18L238.30 490.32L238.80 490.46L239.30 490.61L239.80 490.74L240.30 490.88L240.80 491.02L241.30 491.16L241.80 491.30L242.30 491.43L242.80 491.57L243.30 491.70L243.80 491.83L244.30 491.96L244.80 492.09L245.30 492.22L245.80 492.34L246.30 492.47L246.80 492.59L247.30 492.71L247.80 492.82L248.30 492.94L248.80 493.05L249.30 493.15L249.80 493.26L250.30 493.36L250.80 493.46L251.30 493.55L251.80 493.65L252.30 493.73L252.80 493.82L253.30 493.90L253.80 493.98L254.30 494.06L254.80 494.13L255.30 494.20L255.80 494.27L256.30 494.33L256.80 494.39L257.30 494.45L257.80 494.51L258.30 494.56L258.80 494.61L259.30 494.66L259.80 494.70L260.30 494.74L260.80 494.78L261.30 494.82L261.80 494.85L262.30 494.88L262.80 494.91L263.30 494.93L263.80 494.96L264.30 494.98L264.80 494.99L265.30 495.01L265.80 495.02L266.30 495.03L266.80 495.04L267.30 495.04L267.80 495.05L268.30 495.05L268.80 495.05L269.30 495.05L269.80 495.05L270.30 495.04L270.80 495.04L271.30 495.04L271.80 495.03L272.30 495.02L272.80 495.02L273.30 495.01L273.80 495.00L274.30 495.00L274.80 494.99L275.30 494.98L275.80 494.98L276.30 494.97L276.80 494.97L277.30 494.97L277.80 494.96L278.30 494.96L278.80 494.96L279.30 494.96L279.80 494.97L280.30 494.97L280.80 494.98L281.30 494.99L281.80 495.00L282.30 495.02L282.80 495.03L283.30 495.05L283.80 495.07L284.30 495.10L284.80 495.12L285.30 495.15L285.80 495.17L286.30 495.20L286.80 495.23L287.30 495.26L287.80 495.30L288.30 495.33L288.80 495.36L289.30 495.40L289.80 495.43L290.30 495.47L290.80 495.50L291.30 495.54L291.80 495.58L292.30 495.61L292.80 495.65L293.30 495.68L293.80 495.72L294.30 495.75L294.80 495.79L295.30 495.82L295.80 495.85L296.30 495.88L296.80 495.91L297.30 495.94L297.80 495.97L298.30 496.00L298.80 496.02L299.30 496.05L299.80 496.07L300.30 496.10L300.80 496.12L301.30 496.14L301.80 496.16L302.30 496.18L302.80 496.19L303.30 496.21L303.80 496.22L304.30 496.24L304.80 496.25L305.30 496.26L305.80 496.27L306.30 496.28L306.80 496.29L307.30 496.29L307.80 496.30L308.30 496.30L308.80 496.30L309.30 496.30L309.80 496.30L310.30 496.30L310.80 496.29L311.30 496.29L311.80 496.28L312.30 496.27L312.80 496.26L313.30 496.24L313.80 496.23L314.30 496.21L314.80 496.19L315.30 496.17L315.80 496.15L316.30 496.12L316.80 496.09L317.30 496.06L317.80 496.03L318.30 495.99L318.80 495.96L319.30 495.92L319.80 495.87L320.30 495.83L320.80 495.78L321.30 495.73L321.80 495.68L322.30 495.62L322.80 495.56L323.30 495.50L323.80 495.44L324.30 495.37L324.80 495.30L325.30 495.23L325.80 495.15L326.30 495.08L326.80 495.00L327.30 494.92L327.80 494.84L328.30 494.76L328.80 494.68L329.30 494.60L329.80 494.52L330.30 494.44L330.80 494.36L331.30 494.28L331.80 494.20L332.30 494.12L332.80 494.05L333.30 493.98L333.80 493.91L334.30 493.84L334.80 493.77L335.30 493.71L335.80 493.65L336.30 493.59L336.80 493.54L337.30 493.49L337.80 493.44L338.30 493.40L338.80 493.37L339.30 493.34L339.80 493.31L340.30 493.29L340.80 493.27L341.30 493.26L341.80 493.26L342.30 493.26L342.80 493.26L343.30 493.27L343.80 493.28L344.30 493.29L344.80 493.31L345.30 493.33L345.80 493.35L346.30 493.38L346.80 493.41L347.30 493.44L347.80 493.47L348.30 493.50L348.80 493.53L349.30 493.57L349.80 493.60L350.30 493.64L350.80 493.67L351.30 493.71L351.80 493.74L352.30 493.78L352.80 493.81L353.30 493.84L353.80 493.87L354.30 493.90L354.80 493.92L355.30 493.95L355.80 493.97L356.30 493.99L356.80 494.00L357.30 494.01L357.80 494.02L358.30 494.03L358.80 494.03L359.30 494.03L359.80 494.03L360.30 494.02L360.80 494.01L361.30 494.00L361.80 493.98L362.30 493.97L362.80 493.95L363.30 493.93L363.80 493.91L364.30 493.88L364.80 493.86L365.30 493.83L365.80 493.80L366.30 493.77L366.80 493.73L367.30 493.70L367.80 493.66L368.30 493.63L368.80 493.59L369.30 493.55L369.80 493.51L370.30 493.47L370.80 493.43L371.30 493.39L371.80 493.34L372.30 493.30L372.80 493.26L373.30 493.22L373.80 493.17L374.30 493.13L374.80 493.09L375.30 493.04L375.80 493.00L376.30 492.96L376.80 492.92L377.30 492.88L377.80 492.84L378.30 492.80L378.80 492.76L379.30 492.72L379.80 492.69L380.30 492.65L380.80 492.62L381.30 492.59L381.80 492.55L382.30 492.52L382.80 492.49L383.30 492.46L383.80 492.44L384.30 492.41L384.80 492.39L385.30 492.36L385.80 492.34L386.30 492.32L386.80 492.30L387.30 492.28L387.80 492.26L388.30 492.24L388.80 492.23L389.30 492.22L389.80 492.20L390.30 492.19L390.80 492.18L391.30 492.18L391.80 492.17L392.30 492.17L392.80 492.16L393.30 492.16L393.80 492.16L394.30 492.17L394.80 492.17L395.30 492.18L395.80 492.19L396.30 492.20L396.80 492.21L397.30 492.23L397.80 492.24L398.30 492.26L398.80 492.28L399.30 492.31L399.80 492.34L400.30 492.37L400.80 492.40L401.30 492.43L401.80 492.47L402.30 492.51L402.80 492.56L403.30 492.60L403.80 492.65L404.30 492.70L404.80 492.76L405.30 492.82L405.80 492.88L406.30 492.95L406.80 493.01L407.30 493.09L407.80 493.16L408.30 493.24L408.80 493.32L409.30 493.39L409.80 493.47L410.30 493.55L410.80 493.63L411.30 493.71L411.80 493.79L412.30 493.86L412.80 493.93L413.30 494.00L413.80 494.06L414.30 494.12L414.80 494.18L415.30 494.24L415.80 494.29L416.30 494.34L416.80 494.39L417.30 494.43L417.80 494.48L418.30 494.52L418.80 494.57L419.30 494.61L419.80 494.65L420.30 494.70L420.80 494.74L421.30 494.79L421.80 494.84L422.30 494.89L422.80 494.94L423.30 495.00L423.80 495.06L424.30 495.12L424.80 495.18L425.30 495.25L425.80 495.32L426.30 495.39L426.80 495.46L427.30 495.53L427.80 495.61L428.30 495.68L428.80 495.75L429.30 495.83L429.80 495.90L430.30 495.97L430.80 496.04L431.30 496.11L431.80 496.18L432.30 496.25L432.80 496.31L433.30 496.37L433.80 496.43L434.30 496.49L434.80 496.54L435.30 496.59L435.80 496.63L436.30 496.67L436.80 496.71L437.30 496.74L437.80 496.76L438.30 496.79L438.80 496.80L439.30 496.82L439.80 496.83L440.30 496.83L440.80 496.84L441.30 496.84L441.80 496.83L442.30 496.83L442.80 496.82L443.30 496.81L443.80 496.80L444.30 496.79L444.80 496.77L445.30 496.75L445.80 496.73L446.30 496.72L446.80 496.70L447.30 496.68L447.80 496.65L448.30 496.63L448.80 496.61L449.30 496.59L449.80 496.56L450.30 496.54L450.80 496.52L451.30 496.49L451.80 496.47L452.30 496.44L452.80 496.42L453.30 496.39L453.80 496.36L454.30 496.34L454.80 496.31L455.30 496.28L455.80 496.25L456.30 496.22L456.80 496.19L457.30 496.17L457.80 496.14L458.30 496.11L458.80 496.08L459.30 496.05L459.80 496.02L460.30 495.99L460.80 495.96L461.30 495.93L461.80 495.90L462.30 495.87L462.80 495.85L463.30 495.82L463.80 495.79L464.30 495.77L464.80 495.74L465.30 495.72L465.80 495.69L466.30 495.67L466.80 495.65L467.30 495.63L467.80 495.61L468.30 495.59L468.80 495.58L469.30 495.56L469.80 495.55L470.30 495.54L470.80 495.53L471.30 495.52L471.80 495.51L472.30 495.50L472.80 495.50L473.30 495.50L473.80 495.50L474.30 495.50L474.80 495.51L475.30 495.51L475.80 495.52L476.30 495.53L476.80 495.54L477.30 495.56L477.80 495.57L478.30 495.59L478.80 495.61L479.30 495.63L479.80 495.66L480.30 495.68L480.80 495.71L481.30 495.74L481.80 495.77L482.30 495.80L482.80 495.83L483.30 495.87L483.80 495.91L484.30 495.94L484.80 495.99L485.30 496.03L485.80 496.07L486.30 496.12L486.80 496.16L487.30 496.21L487.80 496.26L488.30 496.31L488.80 496.37L489.30 496.42L489.80 496.48L490.30 496.53L490.80 496.59L491.30 496.65L491.80 496.72L492.30 496.78L492.80 496.84L493.30 496.91L493.80 496.97L494.30 497.04L494.80 497.10L495.30 497.17L495.80 497.24L496.30 497.30L496.80 497.37L497.30 497.44L497.80 497.51L498.30 497.57L498.80 497.64L499.30 497.71L499.80 497.77L500.30 497.84L500.80 497.90L501.30 497.97L501.80 498.03L502.30 498.09L502.80 498.14L503.30 498.20L503.80 498.25L504.30 498.30L504.80 498.34L505.30 498.38L505.80 498.41L506.30 498.44L506.80 498.47L507.30 498.48L507.80 498.50L508.30 498.50L508.80 498.50L509.30 498.49L509.80 498.47L510.30 498.45L510.80 498.43L511.30 498.40L511.80 498.36L512.30 498.32L512.80 498.28L513.30 498.24L513.80 498.19L514.30 498.14L514.80 498.09L515.30 498.04L515.80 497.99L516.30 497.93L516.80 497.88L517.30 497.83L517.80 497.78L518.30 497.73L518.80 497.69L519.30 497.65L519.80 497.61L520.30 497.57L520.80 497.54L521.30 497.52L521.80 497.50L522.30 497.48L522.80 497.47L523.30 497.47L523.80 497.47L524.30 497.47L524.80 497.48L525.30 497.50L525.80 497.51L526.30 497.54L526.80 497.56L527.30 497.60L527.80 497.63L528.30 497.67L528.80 497.71L529.30 497.76L529.80 497.80L530.30 497.86L530.80 497.91L531.30 497.97L531.80 498.02L532.30 498.09L532.80 498.15L533.30 498.21L533.80 498.28L534.30 498.35L534.80 498.42L535.30 498.49L535.80 498.57L536.30 498.64L536.80 498.72L537.30 498.79L537.80 498.87L538.30 498.94L538.80 499.02L539.30 499.10L539.80 499.18L540.30 499.26L540.80 499.34L541.30 499.41L541.80 499.49L542.30 499.57L542.80 499.65L543.30 499.73L543.80 499.82L544.30 499.90L544.80 499.98L545.30 500.06L545.80 500.14L546.30 500.22L546.80 500.30L547.30 500.38L547.80 500.46L548.30 500.53L548.80 500.61L549.30 500.69L549.80 500.77L550.30 500.85L550.80 500.92L551.30 501.00L551.80 501.07L552.30 501.15L552.80 501.22L553.30 501.29L553.80 501.37L554.30 501.44L554.80 501.51L555.30 501.58L555.80 501.64L556.30 501.71L556.80 501.78L557.30 501.84L557.80 501.90L558.30 501.97L558.80 502.03L559.30 502.09L559.80 502.14L560.30 502.20L560.80 502.25L561.30 502.31L561.80 502.36L562.30 502.41L562.80 502.45L563.30 502.50L563.80 502.54L564.30 502.59L564.80 502.63L565.30 502.67L565.80 502.70L566.30 502.74L566.80 502.77L567.30 502.80L567.80 502.84L568.30 502.87L568.80 502.89L569.30 502.92L569.80 502.95L570.30 502.97L570.80 503.00L571.30 503.02L571.80 503.04L572.30 503.06L572.80 503.08L573.30 503.10L573.80 503.12L574.30 503.14L574.80 503.16L575.30 503.18L575.80 503.19L576.30 503.21L576.80 503.23L577.30 503.24L577.80 503.26L578.30 503.27L578.80 503.29L579.20 503.30" fill="none" stroke="#7a7a7a" stroke-width="1.45" stroke-linejoin="round" stroke-linecap="round"/>
<rect x="45.5" y="2.1" width="534.3" height="515.9" fill="none" stroke="#1c1c1c" stroke-width="1.5"/>
<path d="M72.22 2.1V7.1M72.22 518.0V513.0M98.93 2.1V7.1M98.93 518.0V513.0M125.64 2.1V7.1M125.64 518.0V513.0M152.36 2.1V7.1M152.36 518.0V513.0M179.07 2.1V12.1M179.07 518.0V508.0M205.79 2.1V7.1M205.79 518.0V513.0M232.50 2.1V7.1M232.50 518.0V513.0M259.22 2.1V7.1M259.22 518.0V513.0M285.93 2.1V7.1M285.93 518.0V513.0M312.65 2.1V12.1M312.65 518.0V508.0M339.36 2.1V7.1M339.36 518.0V513.0M366.08 2.1V7.1M366.08 518.0V513.0M392.79 2.1V7.1M392.79 518.0V513.0M419.51 2.1V7.1M419.51 518.0V513.0M446.22 2.1V12.1M446.22 518.0V508.0M472.94 2.1V7.1M472.94 518.0V513.0M499.65 2.1V7.1M499.65 518.0V513.0M526.37 2.1V7.1M526.37 518.0V513.0M553.08 2.1V7.1M553.08 518.0V513.0" stroke="#1c1c1c" stroke-width="1.5" fill="none"/>
<text x="46.10" y="538.4" text-anchor="middle" font-family="'Liberation Sans', sans-serif" font-size="17.4" letter-spacing="0.6" fill="#000" stroke="#000" stroke-width="0.3">6000</text>
<text x="179.67" y="538.4" text-anchor="middle" font-family="'Liberation Sans', sans-serif" font-size="17.4" letter-spacing="0.6" fill="#000" stroke="#000" stroke-width="0.3">6500</text>
<text x="313.25" y="538.4" text-anchor="middle" font-family="'Liberation Sans', sans-serif" font-size="17.4" letter-spacing="0.6" fill="#000" stroke="#000" stroke-width="0.3">7000</text>
<text x="446.82" y="538.4" text-anchor="middle" font-family="'Liberation Sans', sans-serif" font-size="17.4" letter-spacing="0.6" fill="#000" stroke="#000" stroke-width="0.3">7500</text>
<text x="580.40" y="538.4" text-anchor="middle" font-family="'Liberation Sans', sans-serif" font-size="17.4" letter-spacing="0.6" fill="#000" stroke="#000" stroke-width="0.3">8000</text>
<text transform="translate(229.00,564.8) scale(1.04,1)" font-family="'Liberation Serif', serif" font-size="16" textLength="32.84" lengthAdjust="spacing" fill="#111" stroke="#111" stroke-width="0.5">Rest</text>
<text transform="translate(272.91,564.8) scale(1.04,1)" font-family="'Liberation Serif', serif" font-size="16" textLength="88.39" lengthAdjust="spacing" fill="#111" stroke="#111" stroke-width="0.5">Wavelength</text>
<text transform="translate(374.34,564.8) scale(1.04,1)" font-family="'Liberation Serif', serif" font-size="16" textLength="21.00" lengthAdjust="spacing" fill="#111" stroke="#111" stroke-width="0.5">(&#197;)</text>
<text transform="translate(13.8,368.16) rotate(-90) scale(1.04,1)" font-family="'Liberation Serif', serif" font-size="16" textLength="35.49" lengthAdjust="spacing" fill="#111" stroke="#111" stroke-width="0.5">Flux</text>
<text transform="translate(13.8,323.08) rotate(-90) scale(1.04,1)" font-family="'Liberation Serif', serif" font-size="16" textLength="57.89" lengthAdjust="spacing" fill="#111" stroke="#111" stroke-width="0.5">(scaled</text>
<text transform="translate(13.8,255.00) rotate(-90) scale(1.04,1)" font-family="'Liberation Serif', serif" font-size="16" textLength="28.29" lengthAdjust="spacing" fill="#111" stroke="#111" stroke-width="0.5">and</text>
<text transform="translate(13.8,216.77) rotate(-90) scale(1.04,1)" font-family="'Liberation Serif', serif" font-size="16" textLength="61.61" lengthAdjust="spacing" fill="#111" stroke="#111" stroke-width="0.5">shifted)</text>
<text transform="translate(446.1,36) scale(1.12,1)" font-family="'Liberation Serif', serif" font-size="16" letter-spacing="1.3" word-spacing="1.5" fill="#7a7a7a" stroke="#7a7a7a" stroke-width="0.3">02cx (+25)</text>
<text transform="translate(446.2,99.8) scale(1.12,1)" font-family="'Liberation Serif', serif" font-size="16" letter-spacing="1.3" word-spacing="1.5" fill="#1a1a1a" stroke="#1a1a1a" stroke-width="0.3">09eoi (+26)</text>
<text transform="translate(446.2,160.1) scale(1.12,1)" font-family="'Liberation Serif', serif" font-size="16" letter-spacing="1.3" word-spacing="1.5" fill="#1a1a1a" stroke="#1a1a1a" stroke-width="0.3">09eiy (+63)</text>
<text transform="translate(446.3,224) scale(1.12,1)" font-family="'Liberation Serif', serif" font-size="16" letter-spacing="1.3" word-spacing="1.5" fill="#1a1a1a" stroke="#1a1a1a" stroke-width="0.3">13an (+23)</text>
<text transform="translate(446.3,284.4) scale(1.12,1)" font-family="'Liberation Serif', serif" font-size="16" letter-spacing="1.3" word-spacing="1.5" fill="#1a1a1a" stroke="#1a1a1a" stroke-width="0.3">10xk (+56)</text>
<text transform="translate(446.2,352) scale(1.12,1)" font-family="'Liberation Serif', serif" font-size="16" letter-spacing="1.3" word-spacing="1.5" fill="#1a1a1a" stroke="#1a1a1a" stroke-width="0.3">09ego (+13)</text>
<text transform="translate(446.3,412.2) scale(1.12,1)" font-family="'Liberation Serif', serif" font-size="16" letter-spacing="1.3" word-spacing="1.5" fill="#1a1a1a" stroke="#1a1a1a" stroke-width="0.3">11hyh (+25)</text>
<text transform="translate(446.3,482.2) scale(1.12,1)" font-family="'Liberation Serif', serif" font-size="16" letter-spacing="1.3" word-spacing="1.5" fill="#7a7a7a" stroke="#7a7a7a" stroke-width="0.3">11kly (+16)</text>
</svg>
</body></html>
